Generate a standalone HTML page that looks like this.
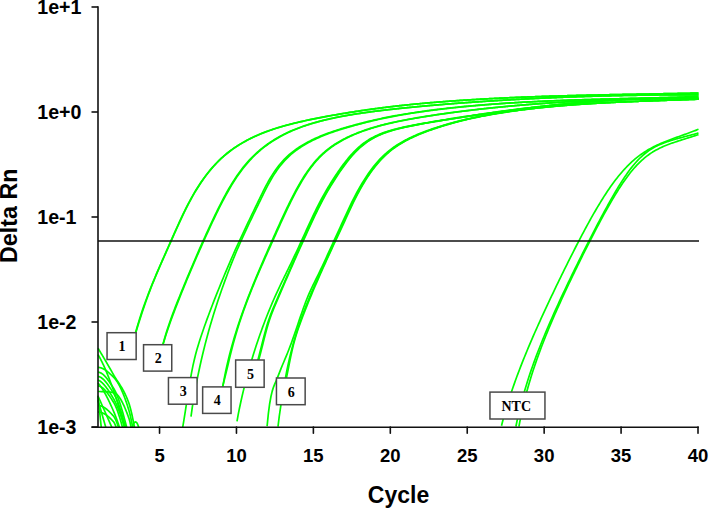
<!DOCTYPE html><html><head><meta charset="utf-8"><style>
*{margin:0;padding:0}
html,body{width:709px;height:508px;background:#fff;overflow:hidden}
svg{position:absolute;left:0;top:0}
text{font-family:"Liberation Sans",sans-serif;font-weight:bold;fill:#000}
.bx text{font-family:"Liberation Serif",serif;font-weight:bold;font-size:14px}
</style></head><body>
<svg width="709" height="508" viewBox="0 0 709 508">
<defs><clipPath id="pa"><rect x="97" y="0" width="602" height="427.6"/></clipPath></defs>
<g clip-path="url(#pa)" fill="none" stroke="#00ff00" stroke-width="1.70" stroke-linejoin="round" stroke-linecap="butt">
<g transform="translate(0.5,0)">
<path d="M128.80 358.74L130.08 352.70L131.36 347.05L132.65 341.75L133.93 336.75L135.21 332.00L136.49 327.47L137.77 323.13L139.06 318.97L140.34 314.97L141.62 311.10L142.90 307.36L144.18 303.73L145.47 300.19L146.75 296.75L148.03 293.39L149.31 290.09L150.59 286.86L151.88 283.69L153.16 280.57L154.44 277.49L155.72 274.45L157.01 271.45L158.29 268.47L159.57 265.51L160.85 262.58L162.13 259.65L163.42 256.74L164.70 253.84L165.98 250.93L167.26 248.03L168.54 245.12L169.83 242.21L171.11 239.31L172.39 236.41L173.67 233.52L174.95 230.65L176.24 227.80L177.52 224.98L178.80 222.18L180.08 219.41L181.36 216.68L182.65 213.99L183.93 211.34L185.21 208.74L186.49 206.20L187.77 203.71L189.06 201.28L190.34 198.92L191.62 196.61L192.90 194.37L194.18 192.18L195.47 190.05L196.75 187.97L198.03 185.96L199.31 183.99L200.59 182.08L201.88 180.23L203.16 178.42L204.44 176.67L205.72 174.96L207.01 173.31L208.29 171.70L209.57 170.13L210.85 168.62L212.13 167.14L213.42 165.71L214.70 164.32L215.98 162.97L217.26 161.66L218.54 160.39L219.83 159.16L221.11 157.97L222.39 156.81L223.67 155.68L224.95 154.59L226.24 153.53L227.52 152.50L228.80 151.51L230.08 150.54L231.36 149.59L232.65 148.68L233.93 147.79L235.21 146.93L236.49 146.09L237.77 145.27L239.06 144.47L240.34 143.69L241.62 142.93L242.90 142.19L244.18 141.47L245.47 140.77L246.75 140.08L248.03 139.41L249.31 138.76L250.59 138.12L251.88 137.50L253.16 136.89L254.44 136.30L255.72 135.72L257.01 135.16L258.29 134.61L259.57 134.07L260.85 133.54L262.13 133.03L263.42 132.53L264.70 132.03L265.98 131.55L267.26 131.08L268.54 130.63L269.83 130.18L271.11 129.74L272.39 129.30L273.67 128.88L274.95 128.47L276.24 128.06L277.52 127.67L278.80 127.28L280.08 126.89L281.36 126.52L282.65 126.15L283.93 125.79L285.21 125.43L286.49 125.08L287.77 124.74L289.06 124.40L290.34 124.07L291.62 123.74L292.90 123.42L294.18 123.10L295.47 122.79L296.75 122.48L298.03 122.18L299.31 121.88L300.59 121.59L301.88 121.30L303.16 121.01L304.44 120.73L305.72 120.45L307.01 120.17L308.29 119.90L309.57 119.63L310.85 119.36L312.13 119.10L313.42 118.84L314.70 118.58L315.98 118.32L317.26 118.07L318.54 117.82L319.83 117.57L321.11 117.33L322.39 117.08L323.67 116.84L324.95 116.60L326.24 116.37L327.52 116.13L328.80 115.90L330.08 115.67L331.36 115.44L332.65 115.21L333.93 114.99L335.21 114.76L336.49 114.54L337.77 114.32L339.06 114.10L340.34 113.89L341.62 113.67L342.90 113.46L344.18 113.25L345.47 113.04L346.75 112.83L348.03 112.62L349.31 112.42L350.59 112.21L351.88 112.01L353.16 111.81L354.44 111.61L355.72 111.41L357.01 111.22L358.29 111.02L359.57 110.83L360.85 110.64L362.13 110.45L363.42 110.26L364.70 110.07L365.98 109.89L367.26 109.71L368.54 109.53L369.83 109.35L371.11 109.17L372.39 108.99L373.67 108.82L374.95 108.64L376.24 108.47L377.52 108.30L378.80 108.13L380.08 107.97L381.36 107.80L382.65 107.64L383.93 107.48L385.21 107.32L386.49 107.16L387.77 107.01L389.06 106.85L390.34 106.70L391.62 106.55L392.90 106.40L394.18 106.25L395.47 106.11L396.75 105.96L398.03 105.82L399.31 105.68L400.59 105.54L401.88 105.40L403.16 105.27L404.44 105.13L405.72 105.00L407.01 104.86L408.29 104.73L409.57 104.60L410.85 104.47L412.13 104.35L413.42 104.22L414.70 104.10L415.98 103.97L417.26 103.85L418.54 103.73L419.83 103.61L421.11 103.49L422.39 103.37L423.67 103.26L424.95 103.14L426.24 103.03L427.52 102.92L428.80 102.81L430.08 102.70L431.36 102.59L432.65 102.48L433.93 102.37L435.21 102.27L436.49 102.16L437.77 102.06L439.06 101.95L440.34 101.85L441.62 101.75L442.90 101.65L444.18 101.55L445.47 101.46L446.75 101.36L448.03 101.27L449.31 101.17L450.59 101.08L451.88 100.99L453.16 100.89L454.44 100.80L455.72 100.71L457.01 100.62L458.29 100.54L459.57 100.45L460.85 100.36L462.13 100.28L463.42 100.20L464.70 100.11L465.98 100.03L467.26 99.95L468.54 99.87L469.83 99.79L471.11 99.71L472.39 99.63L473.67 99.55L474.95 99.48L476.24 99.40L477.52 99.33L478.80 99.25L480.08 99.18L481.36 99.11L482.65 99.03L483.93 98.96L485.21 98.89L486.49 98.82L487.77 98.76L489.06 98.69L490.34 98.62L491.62 98.55L492.90 98.49L494.18 98.42L495.47 98.36L496.75 98.29L498.03 98.23L499.31 98.17L500.59 98.11L501.88 98.05L503.16 97.99L504.44 97.93L505.72 97.87L507.01 97.81L508.29 97.75L509.57 97.70L510.85 97.64L512.13 97.58L513.42 97.53L514.70 97.47L515.98 97.42L517.26 97.37L518.54 97.31L519.83 97.26L521.11 97.21L522.39 97.16L523.67 97.11L524.95 97.06L526.24 97.01L527.52 96.96L528.80 96.91L530.08 96.87L531.36 96.82L532.65 96.77L533.93 96.73L535.21 96.68L536.49 96.64L537.77 96.59L539.06 96.55L540.34 96.50L541.62 96.46L542.90 96.42L544.18 96.38L545.47 96.33L546.75 96.29L548.03 96.25L549.31 96.21L550.59 96.17L551.88 96.13L553.16 96.09L554.44 96.06L555.72 96.02L557.01 95.98L558.29 95.94L559.57 95.91L560.85 95.87L562.13 95.83L563.42 95.80L564.70 95.76L565.98 95.73L567.26 95.69L568.54 95.66L569.83 95.62L571.11 95.59L572.39 95.56L573.67 95.52L574.95 95.49L576.24 95.46L577.52 95.43L578.80 95.40L580.08 95.36L581.36 95.33L582.65 95.30L583.93 95.27L585.21 95.24L586.49 95.21L587.77 95.18L589.06 95.15L590.34 95.12L591.62 95.10L592.90 95.07L594.18 95.04L595.47 95.01L596.75 94.98L598.03 94.96L599.31 94.93L600.59 94.90L601.88 94.87L603.16 94.85L604.44 94.82L605.72 94.79L607.01 94.77L608.29 94.74L609.57 94.72L610.85 94.69L612.13 94.67L613.42 94.64L614.70 94.62L615.98 94.59L617.26 94.57L618.54 94.54L619.83 94.52L621.11 94.49L622.39 94.47L623.67 94.44L624.95 94.42L626.24 94.39L627.52 94.37L628.80 94.35L630.08 94.32L631.36 94.30L632.65 94.28L633.93 94.25L635.21 94.23L636.49 94.21L637.77 94.18L639.06 94.16L640.34 94.14L641.62 94.11L642.90 94.09L644.18 94.07L645.47 94.04L646.75 94.02L648.03 94.00L649.31 93.97L650.59 93.95L651.88 93.93L653.16 93.90L654.44 93.88L655.72 93.86L657.01 93.83L658.29 93.81L659.57 93.79L660.85 93.76L662.13 93.74L663.42 93.72L664.70 93.69L665.98 93.67L667.26 93.65L668.54 93.62L669.83 93.60L671.11 93.57L672.39 93.55L673.67 93.53L674.95 93.50L676.24 93.48L677.52 93.45L678.80 93.43L680.08 93.40L681.36 93.38L682.65 93.35L683.93 93.33L685.21 93.30L686.49 93.28L687.77 93.25L689.06 93.23L690.34 93.20L691.62 93.17L692.90 93.15L694.18 93.12L695.47 93.09L696.75 93.07L698.00 93.04"/>
<path d="M128.80 356.62L130.08 351.53L131.36 346.64L132.65 341.94L133.93 337.39L135.21 332.97L136.49 328.67L137.77 324.49L139.06 320.40L140.34 316.41L141.62 312.51L142.90 308.70L144.18 304.96L145.47 301.32L146.75 297.75L148.03 294.26L149.31 290.86L150.59 287.54L151.88 284.29L153.16 281.11L154.44 277.98L155.72 274.91L157.01 271.89L158.29 268.90L159.57 265.95L160.85 263.02L162.13 260.12L163.42 257.23L164.70 254.36L165.98 251.48L167.26 248.61L168.54 245.73L169.83 242.85L171.11 239.97L172.39 237.09L173.67 234.22L174.95 231.36L176.24 228.52L177.52 225.69L178.80 222.88L180.08 220.11L181.36 217.36L182.65 214.66L183.93 211.99L185.21 209.38L186.49 206.82L187.77 204.31L189.06 201.87L190.34 199.48L191.62 197.16L192.90 194.89L194.18 192.69L195.47 190.54L196.75 188.46L198.03 186.43L199.31 184.45L200.59 182.53L201.88 180.66L203.16 178.84L204.44 177.07L205.72 175.36L207.01 173.69L208.29 172.07L209.57 170.49L210.85 168.97L212.13 167.48L213.42 166.04L214.70 164.64L215.98 163.28L217.26 161.97L218.54 160.69L219.83 159.45L221.11 158.24L222.39 157.08L223.67 155.94L224.95 154.84L226.24 153.78L227.52 152.74L228.80 151.74L230.08 150.76L231.36 149.81L232.65 148.89L233.93 148.00L235.21 147.13L236.49 146.28L237.77 145.46L239.06 144.65L240.34 143.87L241.62 143.11L242.90 142.36L244.18 141.64L245.47 140.93L246.75 140.24L248.03 139.57L249.31 138.91L250.59 138.27L251.88 137.64L253.16 137.03L254.44 136.44L255.72 135.86L257.01 135.29L258.29 134.73L259.57 134.19L260.85 133.66L262.13 133.15L263.42 132.64L264.70 132.15L265.98 131.67L267.26 131.19L268.54 130.73L269.83 130.28L271.11 129.84L272.39 129.40L273.67 128.98L274.95 128.56L276.24 128.16L277.52 127.76L278.80 127.37L280.08 126.98L281.36 126.60L282.65 126.23L283.93 125.87L285.21 125.51L286.49 125.16L287.77 124.82L289.06 124.48L290.34 124.15L291.62 123.82L292.90 123.50L294.18 123.18L295.47 122.86L296.75 122.56L298.03 122.25L299.31 121.95L300.59 121.66L301.88 121.37L303.16 121.08L304.44 120.79L305.72 120.51L307.01 120.24L308.29 119.96L309.57 119.69L310.85 119.42L312.13 119.16L313.42 118.90L314.70 118.64L315.98 118.38L317.26 118.13L318.54 117.88L319.83 117.63L321.11 117.38L322.39 117.14L323.67 116.90L324.95 116.66L326.24 116.42L327.52 116.19L328.80 115.95L330.08 115.72L331.36 115.49L332.65 115.26L333.93 115.04L335.21 114.82L336.49 114.59L337.77 114.37L339.06 114.15L340.34 113.94L341.62 113.72L342.90 113.51L344.18 113.30L345.47 113.09L346.75 112.88L348.03 112.67L349.31 112.46L350.59 112.26L351.88 112.06L353.16 111.86L354.44 111.66L355.72 111.46L357.01 111.26L358.29 111.07L359.57 110.88L360.85 110.68L362.13 110.49L363.42 110.31L364.70 110.12L365.98 109.93L367.26 109.75L368.54 109.57L369.83 109.39L371.11 109.21L372.39 109.03L373.67 108.86L374.95 108.68L376.24 108.51L377.52 108.34L378.80 108.17L380.08 108.01L381.36 107.84L382.65 107.68L383.93 107.52L385.21 107.36L386.49 107.20L387.77 107.04L389.06 106.89L390.34 106.74L391.62 106.59L392.90 106.44L394.18 106.29L395.47 106.14L396.75 106.00L398.03 105.86L399.31 105.71L400.59 105.57L401.88 105.43L403.16 105.30L404.44 105.16L405.72 105.03L407.01 104.89L408.29 104.76L409.57 104.63L410.85 104.50L412.13 104.38L413.42 104.25L414.70 104.12L415.98 104.00L417.26 103.88L418.54 103.76L419.83 103.64L421.11 103.52L422.39 103.40L423.67 103.28L424.95 103.17L426.24 103.06L427.52 102.94L428.80 102.83L430.08 102.72L431.36 102.61L432.65 102.50L433.93 102.40L435.21 102.29L436.49 102.19L437.77 102.08L439.06 101.98L440.34 101.88L441.62 101.78L442.90 101.68L444.18 101.58L445.47 101.48L446.75 101.38L448.03 101.29L449.31 101.19L450.59 101.10L451.88 101.01L453.16 100.92L454.44 100.82L455.72 100.73L457.01 100.65L458.29 100.56L459.57 100.47L460.85 100.38L462.13 100.30L463.42 100.21L464.70 100.13L465.98 100.05L467.26 99.97L468.54 99.89L469.83 99.81L471.11 99.73L472.39 99.65L473.67 99.57L474.95 99.49L476.24 99.42L477.52 99.34L478.80 99.27L480.08 99.20L481.36 99.12L482.65 99.05L483.93 98.98L485.21 98.91L486.49 98.84L487.77 98.77L489.06 98.70L490.34 98.64L491.62 98.57L492.90 98.50L494.18 98.44L495.47 98.37L496.75 98.31L498.03 98.25L499.31 98.18L500.59 98.12L501.88 98.06L503.16 98.00L504.44 97.94L505.72 97.88L507.01 97.82L508.29 97.77L509.57 97.71L510.85 97.65L512.13 97.60L513.42 97.54L514.70 97.49L515.98 97.43L517.26 97.38L518.54 97.33L519.83 97.27L521.11 97.22L522.39 97.17L523.67 97.12L524.95 97.07L526.24 97.02L527.52 96.97L528.80 96.92L530.08 96.88L531.36 96.83L532.65 96.78L533.93 96.74L535.21 96.69L536.49 96.65L537.77 96.60L539.06 96.56L540.34 96.51L541.62 96.47L542.90 96.43L544.18 96.39L545.47 96.34L546.75 96.30L548.03 96.26L549.31 96.22L550.59 96.18L551.88 96.14L553.16 96.10L554.44 96.06L555.72 96.03L557.01 95.99L558.29 95.95L559.57 95.91L560.85 95.88L562.13 95.84L563.42 95.81L564.70 95.77L565.98 95.73L567.26 95.70L568.54 95.67L569.83 95.63L571.11 95.60L572.39 95.56L573.67 95.53L574.95 95.50L576.24 95.47L577.52 95.43L578.80 95.40L580.08 95.37L581.36 95.34L582.65 95.31L583.93 95.28L585.21 95.25L586.49 95.22L587.77 95.19L589.06 95.16L590.34 95.13L591.62 95.10L592.90 95.07L594.18 95.05L595.47 95.02L596.75 94.99L598.03 94.96L599.31 94.93L600.59 94.91L601.88 94.88L603.16 94.85L604.44 94.83L605.72 94.80L607.01 94.77L608.29 94.75L609.57 94.72L610.85 94.70L612.13 94.67L613.42 94.65L614.70 94.62L615.98 94.60L617.26 94.57L618.54 94.55L619.83 94.52L621.11 94.50L622.39 94.47L623.67 94.45L624.95 94.42L626.24 94.40L627.52 94.38L628.80 94.35L630.08 94.33L631.36 94.31L632.65 94.28L633.93 94.26L635.21 94.23L636.49 94.21L637.77 94.19L639.06 94.16L640.34 94.14L641.62 94.12L642.90 94.09L644.18 94.07L645.47 94.05L646.75 94.03L648.03 94.00L649.31 93.98L650.59 93.96L651.88 93.93L653.16 93.91L654.44 93.89L655.72 93.86L657.01 93.84L658.29 93.82L659.57 93.79L660.85 93.77L662.13 93.75L663.42 93.72L664.70 93.70L665.98 93.68L667.26 93.65L668.54 93.63L669.83 93.60L671.11 93.58L672.39 93.56L673.67 93.53L674.95 93.51L676.24 93.48L677.52 93.46L678.80 93.43L680.08 93.41L681.36 93.38L682.65 93.36L683.93 93.33L685.21 93.31L686.49 93.28L687.77 93.26L689.06 93.23L690.34 93.21L691.62 93.18L692.90 93.15L694.18 93.13L695.47 93.10L696.75 93.07L698.00 93.05"/>
<path d="M159.50 356.22L160.78 350.85L162.06 345.81L163.35 341.08L164.63 336.60L165.91 332.35L167.19 328.30L168.47 324.42L169.76 320.70L171.04 317.10L172.32 313.61L173.60 310.22L174.88 306.89L176.17 303.62L177.45 300.40L178.73 297.20L180.01 294.02L181.29 290.86L182.58 287.72L183.86 284.60L185.14 281.49L186.42 278.40L187.71 275.33L188.99 272.27L190.27 269.23L191.55 266.21L192.83 263.21L194.12 260.22L195.40 257.25L196.68 254.30L197.96 251.36L199.24 248.45L200.53 245.55L201.81 242.68L203.09 239.82L204.37 236.98L205.65 234.15L206.94 231.34L208.22 228.55L209.50 225.77L210.78 223.02L212.06 220.29L213.35 217.59L214.63 214.92L215.91 212.27L217.19 209.67L218.47 207.09L219.76 204.56L221.04 202.07L222.32 199.61L223.60 197.21L224.88 194.84L226.17 192.53L227.45 190.26L228.73 188.04L230.01 185.87L231.29 183.76L232.58 181.69L233.86 179.68L235.14 177.73L236.42 175.83L237.71 173.99L238.99 172.20L240.27 170.46L241.55 168.77L242.83 167.14L244.12 165.56L245.40 164.02L246.68 162.53L247.96 161.09L249.24 159.69L250.53 158.33L251.81 157.02L253.09 155.75L254.37 154.51L255.65 153.32L256.94 152.16L258.22 151.04L259.50 149.95L260.78 148.89L262.06 147.87L263.35 146.87L264.63 145.90L265.91 144.96L267.19 144.04L268.47 143.14L269.76 142.27L271.04 141.42L272.32 140.60L273.60 139.79L274.88 139.01L276.17 138.25L277.45 137.50L278.73 136.78L280.01 136.07L281.29 135.39L282.58 134.72L283.86 134.07L285.14 133.44L286.42 132.82L287.71 132.22L288.99 131.63L290.27 131.06L291.55 130.51L292.83 129.96L294.12 129.43L295.40 128.92L296.68 128.42L297.96 127.93L299.24 127.45L300.53 126.98L301.81 126.52L303.09 126.08L304.37 125.64L305.65 125.21L306.94 124.80L308.22 124.39L309.50 123.99L310.78 123.60L312.06 123.22L313.35 122.85L314.63 122.48L315.91 122.12L317.19 121.77L318.47 121.43L319.76 121.09L321.04 120.76L322.32 120.44L323.60 120.12L324.88 119.81L326.17 119.51L327.45 119.21L328.73 118.91L330.01 118.63L331.29 118.34L332.58 118.07L333.86 117.80L335.14 117.53L336.42 117.27L337.71 117.01L338.99 116.76L340.27 116.51L341.55 116.27L342.83 116.03L344.12 115.80L345.40 115.57L346.68 115.34L347.96 115.12L349.24 114.91L350.53 114.69L351.81 114.48L353.09 114.28L354.37 114.07L355.65 113.87L356.94 113.68L358.22 113.48L359.50 113.29L360.78 113.10L362.06 112.92L363.35 112.73L364.63 112.55L365.91 112.37L367.19 112.20L368.47 112.02L369.76 111.85L371.04 111.68L372.32 111.52L373.60 111.35L374.88 111.19L376.17 111.03L377.45 110.87L378.73 110.71L380.01 110.55L381.29 110.40L382.58 110.25L383.86 110.10L385.14 109.95L386.42 109.80L387.71 109.65L388.99 109.51L390.27 109.36L391.55 109.22L392.83 109.08L394.12 108.94L395.40 108.80L396.68 108.66L397.96 108.53L399.24 108.39L400.53 108.26L401.81 108.13L403.09 108.00L404.37 107.86L405.65 107.74L406.94 107.61L408.22 107.48L409.50 107.35L410.78 107.23L412.06 107.10L413.35 106.98L414.63 106.86L415.91 106.74L417.19 106.61L418.47 106.49L419.76 106.38L421.04 106.26L422.32 106.14L423.60 106.02L424.88 105.91L426.17 105.79L427.45 105.68L428.73 105.57L430.01 105.45L431.29 105.34L432.58 105.23L433.86 105.12L435.14 105.01L436.42 104.90L437.71 104.79L438.99 104.69L440.27 104.58L441.55 104.48L442.83 104.37L444.12 104.27L445.40 104.16L446.68 104.06L447.96 103.96L449.24 103.86L450.53 103.75L451.81 103.65L453.09 103.56L454.37 103.46L455.65 103.36L456.94 103.26L458.22 103.16L459.50 103.07L460.78 102.97L462.06 102.88L463.35 102.78L464.63 102.69L465.91 102.60L467.19 102.50L468.47 102.41L469.76 102.32L471.04 102.23L472.32 102.14L473.60 102.05L474.88 101.96L476.17 101.87L477.45 101.79L478.73 101.70L480.01 101.61L481.29 101.53L482.58 101.44L483.86 101.36L485.14 101.27L486.42 101.19L487.71 101.11L488.99 101.02L490.27 100.94L491.55 100.86L492.83 100.78L494.12 100.70L495.40 100.62L496.68 100.54L497.96 100.47L499.24 100.39L500.53 100.31L501.81 100.23L503.09 100.16L504.37 100.08L505.65 100.01L506.94 99.94L508.22 99.86L509.50 99.79L510.78 99.72L512.06 99.64L513.35 99.57L514.63 99.50L515.91 99.43L517.19 99.36L518.47 99.29L519.76 99.23L521.04 99.16L522.32 99.09L523.60 99.02L524.88 98.96L526.17 98.89L527.45 98.83L528.73 98.76L530.01 98.70L531.29 98.64L532.58 98.57L533.86 98.51L535.14 98.45L536.42 98.39L537.71 98.33L538.99 98.27L540.27 98.21L541.55 98.15L542.83 98.09L544.12 98.03L545.40 97.97L546.68 97.92L547.96 97.86L549.24 97.81L550.53 97.75L551.81 97.70L553.09 97.64L554.37 97.59L555.65 97.54L556.94 97.48L558.22 97.43L559.50 97.38L560.78 97.33L562.06 97.28L563.35 97.23L564.63 97.18L565.91 97.13L567.19 97.08L568.47 97.04L569.76 96.99L571.04 96.94L572.32 96.90L573.60 96.85L574.88 96.81L576.17 96.76L577.45 96.72L578.73 96.67L580.01 96.63L581.29 96.59L582.58 96.55L583.86 96.51L585.14 96.47L586.42 96.43L587.71 96.39L588.99 96.35L590.27 96.31L591.55 96.27L592.83 96.23L594.12 96.20L595.40 96.16L596.68 96.12L597.96 96.09L599.24 96.05L600.53 96.02L601.81 95.99L603.09 95.95L604.37 95.92L605.65 95.89L606.94 95.86L608.22 95.82L609.50 95.79L610.78 95.76L612.06 95.73L613.35 95.71L614.63 95.68L615.91 95.65L617.19 95.62L618.47 95.59L619.76 95.57L621.04 95.54L622.32 95.52L623.60 95.49L624.88 95.47L626.17 95.44L627.45 95.42L628.73 95.40L630.01 95.38L631.29 95.35L632.58 95.33L633.86 95.31L635.14 95.29L636.42 95.27L637.71 95.25L638.99 95.23L640.27 95.22L641.55 95.20L642.83 95.18L644.12 95.16L645.40 95.15L646.68 95.13L647.96 95.12L649.24 95.10L650.53 95.09L651.81 95.08L653.09 95.06L654.37 95.05L655.65 95.04L656.94 95.03L658.22 95.02L659.50 95.00L660.78 94.99L662.06 94.99L663.35 94.98L664.63 94.97L665.91 94.96L667.19 94.95L668.47 94.95L669.76 94.94L671.04 94.93L672.32 94.93L673.60 94.92L674.88 94.92L676.17 94.91L677.45 94.91L678.73 94.91L680.01 94.91L681.29 94.90L682.58 94.90L683.86 94.90L685.14 94.90L686.42 94.90L687.71 94.90L688.99 94.90L690.27 94.90L691.55 94.91L692.83 94.91L694.12 94.91L695.40 94.92L696.68 94.92L697.96 94.92L698.00 94.92"/>
<path d="M159.50 355.12L160.78 350.45L162.06 345.99L163.35 341.70L164.63 337.57L165.91 333.58L167.19 329.71L168.47 325.96L169.76 322.31L171.04 318.74L172.32 315.25L173.60 311.83L174.88 308.46L176.17 305.15L177.45 301.87L178.73 298.63L180.01 295.42L181.29 292.24L182.58 289.09L183.86 285.96L185.14 282.85L186.42 279.76L187.71 276.70L188.99 273.65L190.27 270.63L191.55 267.62L192.83 264.63L194.12 261.66L195.40 258.71L196.68 255.77L197.96 252.85L199.24 249.94L200.53 247.06L201.81 244.18L203.09 241.32L204.37 238.48L205.65 235.65L206.94 232.83L208.22 230.03L209.50 227.25L210.78 224.49L212.06 221.75L213.35 219.04L214.63 216.35L215.91 213.69L217.19 211.07L218.47 208.48L219.76 205.93L221.04 203.41L222.32 200.94L223.60 198.51L224.88 196.12L226.17 193.78L227.45 191.49L228.73 189.25L230.01 187.05L231.29 184.91L232.58 182.81L233.86 180.78L235.14 178.79L236.42 176.86L237.71 174.99L238.99 173.17L240.27 171.40L241.55 169.69L242.83 168.03L244.12 166.41L245.40 164.85L246.68 163.34L247.96 161.87L249.24 160.45L250.53 159.07L251.81 157.73L253.09 156.44L254.37 155.18L255.65 153.97L256.94 152.79L258.22 151.65L259.50 150.54L260.78 149.47L262.06 148.42L263.35 147.41L264.63 146.43L265.91 145.47L267.19 144.54L268.47 143.63L269.76 142.75L271.04 141.88L272.32 141.05L273.60 140.23L274.88 139.43L276.17 138.66L277.45 137.91L278.73 137.17L280.01 136.46L281.29 135.76L282.58 135.08L283.86 134.42L285.14 133.78L286.42 133.16L287.71 132.55L288.99 131.95L290.27 131.37L291.55 130.81L292.83 130.26L294.12 129.72L295.40 129.20L296.68 128.69L297.96 128.19L299.24 127.71L300.53 127.23L301.81 126.77L303.09 126.32L304.37 125.88L305.65 125.44L306.94 125.02L308.22 124.61L309.50 124.21L310.78 123.81L312.06 123.43L313.35 123.05L314.63 122.68L315.91 122.32L317.19 121.96L318.47 121.62L319.76 121.28L321.04 120.94L322.32 120.62L323.60 120.30L324.88 119.98L326.17 119.67L327.45 119.37L328.73 119.07L330.01 118.78L331.29 118.50L332.58 118.22L333.86 117.94L335.14 117.67L336.42 117.41L337.71 117.15L338.99 116.89L340.27 116.65L341.55 116.40L342.83 116.16L344.12 115.92L345.40 115.69L346.68 115.47L347.96 115.24L349.24 115.02L350.53 114.81L351.81 114.60L353.09 114.39L354.37 114.18L355.65 113.98L356.94 113.78L358.22 113.59L359.50 113.39L360.78 113.20L362.06 113.02L363.35 112.83L364.63 112.65L365.91 112.47L367.19 112.29L368.47 112.12L369.76 111.95L371.04 111.78L372.32 111.61L373.60 111.44L374.88 111.28L376.17 111.12L377.45 110.96L378.73 110.80L380.01 110.64L381.29 110.48L382.58 110.33L383.86 110.18L385.14 110.03L386.42 109.88L387.71 109.73L388.99 109.59L390.27 109.44L391.55 109.30L392.83 109.16L394.12 109.02L395.40 108.88L396.68 108.74L397.96 108.60L399.24 108.47L400.53 108.33L401.81 108.20L403.09 108.07L404.37 107.94L405.65 107.81L406.94 107.68L408.22 107.55L409.50 107.42L410.78 107.30L412.06 107.17L413.35 107.05L414.63 106.92L415.91 106.80L417.19 106.68L418.47 106.56L419.76 106.44L421.04 106.32L422.32 106.20L423.60 106.09L424.88 105.97L426.17 105.86L427.45 105.74L428.73 105.63L430.01 105.51L431.29 105.40L432.58 105.29L433.86 105.18L435.14 105.07L436.42 104.96L437.71 104.85L438.99 104.75L440.27 104.64L441.55 104.53L442.83 104.43L444.12 104.32L445.40 104.22L446.68 104.12L447.96 104.01L449.24 103.91L450.53 103.81L451.81 103.71L453.09 103.61L454.37 103.51L455.65 103.41L456.94 103.31L458.22 103.22L459.50 103.12L460.78 103.02L462.06 102.93L463.35 102.83L464.63 102.74L465.91 102.65L467.19 102.55L468.47 102.46L469.76 102.37L471.04 102.28L472.32 102.19L473.60 102.10L474.88 102.01L476.17 101.92L477.45 101.83L478.73 101.75L480.01 101.66L481.29 101.57L482.58 101.49L483.86 101.40L485.14 101.32L486.42 101.23L487.71 101.15L488.99 101.07L490.27 100.99L491.55 100.91L492.83 100.83L494.12 100.75L495.40 100.67L496.68 100.59L497.96 100.51L499.24 100.43L500.53 100.35L501.81 100.28L503.09 100.20L504.37 100.12L505.65 100.05L506.94 99.98L508.22 99.90L509.50 99.83L510.78 99.76L512.06 99.68L513.35 99.61L514.63 99.54L515.91 99.47L517.19 99.40L518.47 99.33L519.76 99.26L521.04 99.19L522.32 99.13L523.60 99.06L524.88 98.99L526.17 98.93L527.45 98.86L528.73 98.80L530.01 98.73L531.29 98.67L532.58 98.61L533.86 98.54L535.14 98.48L536.42 98.42L537.71 98.36L538.99 98.30L540.27 98.24L541.55 98.18L542.83 98.12L544.12 98.06L545.40 98.01L546.68 97.95L547.96 97.89L549.24 97.84L550.53 97.78L551.81 97.73L553.09 97.67L554.37 97.62L555.65 97.56L556.94 97.51L558.22 97.46L559.50 97.41L560.78 97.36L562.06 97.31L563.35 97.26L564.63 97.21L565.91 97.16L567.19 97.11L568.47 97.06L569.76 97.01L571.04 96.97L572.32 96.92L573.60 96.88L574.88 96.83L576.17 96.79L577.45 96.74L578.73 96.70L580.01 96.65L581.29 96.61L582.58 96.57L583.86 96.53L585.14 96.49L586.42 96.45L587.71 96.41L588.99 96.37L590.27 96.33L591.55 96.29L592.83 96.25L594.12 96.22L595.40 96.18L596.68 96.14L597.96 96.11L599.24 96.07L600.53 96.04L601.81 96.00L603.09 95.97L604.37 95.94L605.65 95.91L606.94 95.87L608.22 95.84L609.50 95.81L610.78 95.78L612.06 95.75L613.35 95.72L614.63 95.69L615.91 95.66L617.19 95.64L618.47 95.61L619.76 95.58L621.04 95.56L622.32 95.53L623.60 95.51L624.88 95.48L626.17 95.46L627.45 95.43L628.73 95.41L630.01 95.39L631.29 95.37L632.58 95.34L633.86 95.32L635.14 95.30L636.42 95.28L637.71 95.26L638.99 95.24L640.27 95.23L641.55 95.21L642.83 95.19L644.12 95.17L645.40 95.16L646.68 95.14L647.96 95.13L649.24 95.11L650.53 95.10L651.81 95.08L653.09 95.07L654.37 95.06L655.65 95.04L656.94 95.03L658.22 95.02L659.50 95.01L660.78 95.00L662.06 94.99L663.35 94.98L664.63 94.97L665.91 94.96L667.19 94.96L668.47 94.95L669.76 94.94L671.04 94.94L672.32 94.93L673.60 94.93L674.88 94.92L676.17 94.92L677.45 94.91L678.73 94.91L680.01 94.91L681.29 94.90L682.58 94.90L683.86 94.90L685.14 94.90L686.42 94.90L687.71 94.90L688.99 94.90L690.27 94.90L691.55 94.91L692.83 94.91L694.12 94.91L695.40 94.91L696.68 94.92L697.96 94.92L698.00 94.92"/>
<path d="M182.20 427.47L183.48 419.53L184.76 411.52L186.05 403.32L187.33 395.04L188.61 386.88L189.89 379.11L191.17 372.03L192.46 365.69L193.74 359.99L195.02 354.82L196.30 350.08L197.58 345.69L198.87 341.55L200.15 337.59L201.43 333.74L202.71 329.98L203.99 326.31L205.28 322.70L206.56 319.16L207.84 315.67L209.12 312.23L210.41 308.84L211.69 305.49L212.97 302.18L214.25 298.90L215.53 295.65L216.82 292.44L218.10 289.25L219.38 286.08L220.66 282.94L221.94 279.83L223.23 276.73L224.51 273.66L225.79 270.61L227.07 267.58L228.35 264.58L229.64 261.60L230.92 258.64L232.20 255.72L233.48 252.82L234.76 249.95L236.05 247.12L237.33 244.31L238.61 241.53L239.89 238.77L241.17 236.02L242.46 233.29L243.74 230.58L245.02 227.87L246.30 225.17L247.58 222.48L248.87 219.80L250.15 217.13L251.43 214.46L252.71 211.79L253.99 209.13L255.28 206.47L256.56 203.81L257.84 201.15L259.12 198.51L260.41 195.88L261.69 193.28L262.97 190.71L264.25 188.19L265.53 185.73L266.82 183.33L268.10 181.01L269.38 178.78L270.66 176.63L271.94 174.58L273.23 172.60L274.51 170.72L275.79 168.91L277.07 167.18L278.35 165.53L279.64 163.95L280.92 162.44L282.20 161.00L283.48 159.63L284.76 158.31L286.05 157.06L287.33 155.86L288.61 154.72L289.89 153.62L291.17 152.57L292.46 151.56L293.74 150.60L295.02 149.67L296.30 148.78L297.58 147.91L298.87 147.07L300.15 146.26L301.43 145.47L302.71 144.70L303.99 143.95L305.28 143.22L306.56 142.51L307.84 141.82L309.12 141.15L310.41 140.50L311.69 139.86L312.97 139.24L314.25 138.64L315.53 138.06L316.82 137.48L318.10 136.93L319.38 136.38L320.66 135.85L321.94 135.33L323.23 134.83L324.51 134.33L325.79 133.85L327.07 133.37L328.35 132.91L329.64 132.45L330.92 132.00L332.20 131.56L333.48 131.13L334.76 130.71L336.05 130.29L337.33 129.88L338.61 129.48L339.89 129.08L341.17 128.68L342.46 128.30L343.74 127.91L345.02 127.53L346.30 127.16L347.58 126.79L348.87 126.43L350.15 126.07L351.43 125.71L352.71 125.35L353.99 125.00L355.28 124.66L356.56 124.32L357.84 123.98L359.12 123.64L360.41 123.31L361.69 122.98L362.97 122.65L364.25 122.33L365.53 122.01L366.82 121.69L368.10 121.38L369.38 121.07L370.66 120.77L371.94 120.46L373.23 120.17L374.51 119.87L375.79 119.58L377.07 119.29L378.35 119.01L379.64 118.73L380.92 118.46L382.20 118.19L383.48 117.92L384.76 117.66L386.05 117.40L387.33 117.15L388.61 116.90L389.89 116.65L391.17 116.41L392.46 116.17L393.74 115.93L395.02 115.70L396.30 115.47L397.58 115.24L398.87 115.01L400.15 114.79L401.43 114.57L402.71 114.36L403.99 114.14L405.28 113.93L406.56 113.72L407.84 113.52L409.12 113.31L410.41 113.11L411.69 112.91L412.97 112.72L414.25 112.52L415.53 112.33L416.82 112.14L418.10 111.96L419.38 111.77L420.66 111.59L421.94 111.41L423.23 111.23L424.51 111.05L425.79 110.88L427.07 110.71L428.35 110.53L429.64 110.37L430.92 110.20L432.20 110.04L433.48 109.87L434.76 109.71L436.05 109.55L437.33 109.39L438.61 109.24L439.89 109.09L441.17 108.93L442.46 108.78L443.74 108.63L445.02 108.49L446.30 108.34L447.58 108.20L448.87 108.06L450.15 107.92L451.43 107.78L452.71 107.64L453.99 107.50L455.28 107.37L456.56 107.24L457.84 107.11L459.12 106.98L460.41 106.85L461.69 106.72L462.97 106.60L464.25 106.47L465.53 106.35L466.82 106.23L468.10 106.11L469.38 105.99L470.66 105.88L471.94 105.76L473.23 105.65L474.51 105.54L475.79 105.43L477.07 105.32L478.35 105.21L479.64 105.10L480.92 104.99L482.20 104.89L483.48 104.79L484.76 104.68L486.05 104.58L487.33 104.48L488.61 104.38L489.89 104.29L491.17 104.19L492.46 104.10L493.74 104.00L495.02 103.91L496.30 103.82L497.58 103.73L498.87 103.64L500.15 103.55L501.43 103.46L502.71 103.38L503.99 103.29L505.28 103.21L506.56 103.13L507.84 103.05L509.12 102.96L510.41 102.88L511.69 102.81L512.97 102.73L514.25 102.65L515.53 102.58L516.82 102.50L518.10 102.43L519.38 102.35L520.66 102.28L521.94 102.21L523.23 102.14L524.51 102.07L525.79 102.00L527.07 101.94L528.35 101.87L529.64 101.80L530.92 101.74L532.20 101.68L533.48 101.61L534.76 101.55L536.05 101.49L537.33 101.43L538.61 101.37L539.89 101.31L541.17 101.25L542.46 101.19L543.74 101.14L545.02 101.08L546.30 101.02L547.58 100.97L548.87 100.91L550.15 100.86L551.43 100.81L552.71 100.76L553.99 100.70L555.28 100.65L556.56 100.60L557.84 100.55L559.12 100.50L560.41 100.46L561.69 100.41L562.97 100.36L564.25 100.31L565.53 100.27L566.82 100.22L568.10 100.18L569.38 100.13L570.66 100.09L571.94 100.05L573.23 100.00L574.51 99.96L575.79 99.92L577.07 99.88L578.35 99.83L579.64 99.79L580.92 99.75L582.20 99.71L583.48 99.67L584.76 99.64L586.05 99.60L587.33 99.56L588.61 99.52L589.89 99.48L591.17 99.45L592.46 99.41L593.74 99.37L595.02 99.34L596.30 99.30L597.58 99.26L598.87 99.23L600.15 99.19L601.43 99.16L602.71 99.13L603.99 99.09L605.28 99.06L606.56 99.02L607.84 98.99L609.12 98.96L610.41 98.92L611.69 98.89L612.97 98.86L614.25 98.82L615.53 98.79L616.82 98.76L618.10 98.73L619.38 98.69L620.66 98.66L621.94 98.63L623.23 98.60L624.51 98.57L625.79 98.53L627.07 98.50L628.35 98.47L629.64 98.44L630.92 98.41L632.20 98.38L633.48 98.34L634.76 98.31L636.05 98.28L637.33 98.25L638.61 98.22L639.89 98.19L641.17 98.16L642.46 98.12L643.74 98.09L645.02 98.06L646.30 98.03L647.58 98.00L648.87 97.96L650.15 97.93L651.43 97.90L652.71 97.86L653.99 97.83L655.28 97.80L656.56 97.77L657.84 97.73L659.12 97.70L660.41 97.66L661.69 97.63L662.97 97.60L664.25 97.56L665.53 97.53L666.82 97.49L668.10 97.46L669.38 97.42L670.66 97.39L671.94 97.35L673.23 97.31L674.51 97.28L675.79 97.24L677.07 97.20L678.35 97.16L679.64 97.13L680.92 97.09L682.20 97.05L683.48 97.01L684.76 96.97L686.05 96.93L687.33 96.89L688.61 96.85L689.89 96.80L691.17 96.76L692.46 96.72L693.74 96.68L695.02 96.63L696.30 96.59L697.58 96.55L698.00 96.53"/>
<path d="M190.50 416.54L191.78 407.44L193.06 399.26L194.35 391.75L195.63 384.76L196.91 378.19L198.19 371.96L199.47 366.00L200.76 360.30L202.04 354.81L203.32 349.51L204.60 344.40L205.88 339.45L207.17 334.67L208.45 330.03L209.73 325.53L211.01 321.15L212.29 316.89L213.58 312.72L214.86 308.66L216.14 304.68L217.42 300.79L218.71 296.97L219.99 293.22L221.27 289.54L222.55 285.93L223.83 282.37L225.12 278.87L226.40 275.43L227.68 272.04L228.96 268.70L230.24 265.42L231.53 262.18L232.81 259.00L234.09 255.87L235.37 252.79L236.65 249.76L237.94 246.79L239.22 243.87L240.50 240.99L241.78 238.15L243.06 235.35L244.35 232.57L245.63 229.83L246.91 227.10L248.19 224.40L249.47 221.72L250.76 219.05L252.04 216.39L253.32 213.74L254.60 211.09L255.88 208.44L257.17 205.80L258.45 203.16L259.73 200.52L261.01 197.88L262.29 195.27L263.58 192.68L264.86 190.13L266.14 187.63L267.42 185.18L268.71 182.81L269.99 180.51L271.27 178.29L272.55 176.17L273.83 174.13L275.12 172.18L276.40 170.31L277.68 168.52L278.96 166.81L280.24 165.17L281.53 163.61L282.81 162.11L284.09 160.69L285.37 159.33L286.65 158.03L287.94 156.78L289.22 155.60L290.50 154.46L291.78 153.38L293.06 152.34L294.35 151.34L295.63 150.39L296.91 149.47L298.19 148.58L299.47 147.72L300.76 146.89L302.04 146.08L303.32 145.29L304.60 144.53L305.88 143.78L307.17 143.06L308.45 142.36L309.73 141.67L311.01 141.00L312.29 140.35L313.58 139.72L314.86 139.11L316.14 138.51L317.42 137.93L318.71 137.36L319.99 136.80L321.27 136.26L322.55 135.73L323.83 135.22L325.12 134.71L326.40 134.22L327.68 133.74L328.96 133.27L330.24 132.80L331.53 132.35L332.81 131.90L334.09 131.47L335.37 131.04L336.65 130.61L337.94 130.20L339.22 129.79L340.50 129.38L341.78 128.99L343.06 128.60L344.35 128.21L345.63 127.83L346.91 127.45L348.19 127.08L349.47 126.71L350.76 126.34L352.04 125.98L353.32 125.63L354.60 125.28L355.88 124.93L357.17 124.58L358.45 124.24L359.73 123.90L361.01 123.56L362.29 123.23L363.58 122.90L364.86 122.58L366.14 122.26L367.42 121.94L368.71 121.62L369.99 121.31L371.27 121.00L372.55 120.70L373.83 120.40L375.12 120.10L376.40 119.81L377.68 119.52L378.96 119.23L380.24 118.95L381.53 118.67L382.81 118.40L384.09 118.13L385.37 117.86L386.65 117.60L387.94 117.35L389.22 117.09L390.50 116.84L391.78 116.60L393.06 116.35L394.35 116.11L395.63 115.88L396.91 115.64L398.19 115.41L399.47 115.19L400.76 114.96L402.04 114.74L403.32 114.52L404.60 114.31L405.88 114.09L407.17 113.88L408.45 113.68L409.73 113.47L411.01 113.27L412.29 113.07L413.58 112.87L414.86 112.67L416.14 112.48L417.42 112.29L418.71 112.10L419.99 111.91L421.27 111.73L422.55 111.55L423.83 111.37L425.12 111.19L426.40 111.01L427.68 110.84L428.96 110.67L430.24 110.50L431.53 110.33L432.81 110.16L434.09 110.00L435.37 109.84L436.65 109.68L437.94 109.52L439.22 109.36L440.50 109.20L441.78 109.05L443.06 108.90L444.35 108.75L445.63 108.60L446.91 108.45L448.19 108.31L449.47 108.17L450.76 108.02L452.04 107.88L453.32 107.75L454.60 107.61L455.88 107.47L457.17 107.34L458.45 107.21L459.73 107.08L461.01 106.95L462.29 106.82L463.58 106.69L464.86 106.57L466.14 106.45L467.42 106.32L468.71 106.20L469.99 106.09L471.27 105.97L472.55 105.85L473.83 105.74L475.12 105.62L476.40 105.51L477.68 105.40L478.96 105.29L480.24 105.18L481.53 105.08L482.81 104.97L484.09 104.87L485.37 104.76L486.65 104.66L487.94 104.56L489.22 104.46L490.50 104.36L491.78 104.27L493.06 104.17L494.35 104.08L495.63 103.98L496.91 103.89L498.19 103.80L499.47 103.71L500.76 103.62L502.04 103.53L503.32 103.44L504.60 103.36L505.88 103.27L507.17 103.19L508.45 103.11L509.73 103.03L511.01 102.95L512.29 102.87L513.58 102.79L514.86 102.71L516.14 102.63L517.42 102.56L518.71 102.48L519.99 102.41L521.27 102.34L522.55 102.27L523.83 102.20L525.12 102.13L526.40 102.06L527.68 101.99L528.96 101.92L530.24 101.86L531.53 101.79L532.81 101.73L534.09 101.66L535.37 101.60L536.65 101.54L537.94 101.47L539.22 101.41L540.50 101.35L541.78 101.30L543.06 101.24L544.35 101.18L545.63 101.12L546.91 101.07L548.19 101.01L549.47 100.96L550.76 100.90L552.04 100.85L553.32 100.80L554.60 100.74L555.88 100.69L557.17 100.64L558.45 100.59L559.73 100.54L561.01 100.49L562.29 100.45L563.58 100.40L564.86 100.35L566.14 100.30L567.42 100.26L568.71 100.21L569.99 100.17L571.27 100.12L572.55 100.08L573.83 100.04L575.12 99.99L576.40 99.95L577.68 99.91L578.96 99.87L580.24 99.83L581.53 99.79L582.81 99.74L584.09 99.71L585.37 99.67L586.65 99.63L587.94 99.59L589.22 99.55L590.50 99.51L591.78 99.47L593.06 99.44L594.35 99.40L595.63 99.36L596.91 99.33L598.19 99.29L599.47 99.26L600.76 99.22L602.04 99.19L603.32 99.15L604.60 99.12L605.88 99.08L607.17 99.05L608.45 99.02L609.73 98.98L611.01 98.95L612.29 98.91L613.58 98.88L614.86 98.85L616.14 98.82L617.42 98.78L618.71 98.75L619.99 98.72L621.27 98.69L622.55 98.65L623.83 98.62L625.12 98.59L626.40 98.56L627.68 98.53L628.96 98.50L630.24 98.46L631.53 98.43L632.81 98.40L634.09 98.37L635.37 98.34L636.65 98.31L637.94 98.27L639.22 98.24L640.50 98.21L641.78 98.18L643.06 98.15L644.35 98.12L645.63 98.08L646.91 98.05L648.19 98.02L649.47 97.99L650.76 97.96L652.04 97.92L653.32 97.89L654.60 97.86L655.88 97.82L657.17 97.79L658.45 97.76L659.73 97.72L661.01 97.69L662.29 97.66L663.58 97.62L664.86 97.59L666.14 97.55L667.42 97.52L668.71 97.48L669.99 97.45L671.27 97.41L672.55 97.38L673.83 97.34L675.12 97.30L676.40 97.27L677.68 97.23L678.96 97.19L680.24 97.15L681.53 97.12L682.81 97.08L684.09 97.04L685.37 97.00L686.65 96.96L687.94 96.92L689.22 96.88L690.50 96.84L691.78 96.80L693.06 96.75L694.35 96.71L695.63 96.67L696.91 96.62L698.00 96.59"/>
<path d="M221.10 393.49L222.38 385.79L223.66 378.82L224.95 372.43L226.23 366.49L227.51 360.94L228.79 355.71L230.07 350.74L231.36 346.00L232.64 341.47L233.92 337.10L235.20 332.89L236.48 328.82L237.77 324.86L239.05 321.01L240.33 317.26L241.61 313.60L242.89 310.01L244.18 306.50L245.46 303.05L246.74 299.66L248.02 296.32L249.31 293.03L250.59 289.79L251.87 286.58L253.15 283.42L254.43 280.29L255.72 277.19L257.00 274.12L258.28 271.07L259.56 268.05L260.84 265.06L262.13 262.08L263.41 259.12L264.69 256.18L265.97 253.25L267.25 250.33L268.54 247.43L269.82 244.53L271.10 241.64L272.38 238.76L273.66 235.88L274.95 233.02L276.23 230.16L277.51 227.31L278.79 224.48L280.07 221.67L281.36 218.87L282.64 216.10L283.92 213.35L285.20 210.63L286.48 207.95L287.77 205.29L289.05 202.68L290.33 200.10L291.61 197.56L292.89 195.07L294.18 192.63L295.46 190.23L296.74 187.89L298.02 185.60L299.31 183.36L300.59 181.19L301.87 179.07L303.15 177.02L304.43 175.03L305.72 173.11L307.00 171.24L308.28 169.44L309.56 167.71L310.84 166.03L312.13 164.41L313.41 162.85L314.69 161.34L315.97 159.90L317.25 158.50L318.54 157.16L319.82 155.88L321.10 154.64L322.38 153.45L323.66 152.30L324.95 151.21L326.23 150.15L327.51 149.13L328.79 148.16L330.07 147.21L331.36 146.31L332.64 145.43L333.92 144.58L335.20 143.76L336.48 142.96L337.77 142.19L339.05 141.44L340.33 140.71L341.61 140.00L342.89 139.32L344.18 138.65L345.46 138.00L346.74 137.37L348.02 136.76L349.31 136.17L350.59 135.59L351.87 135.02L353.15 134.48L354.43 133.94L355.72 133.42L357.00 132.91L358.28 132.41L359.56 131.92L360.84 131.45L362.13 130.99L363.41 130.53L364.69 130.09L365.97 129.65L367.25 129.23L368.54 128.81L369.82 128.40L371.10 128.00L372.38 127.61L373.66 127.23L374.95 126.85L376.23 126.48L377.51 126.12L378.79 125.77L380.07 125.43L381.36 125.09L382.64 124.76L383.92 124.44L385.20 124.12L386.48 123.81L387.77 123.51L389.05 123.21L390.33 122.92L391.61 122.63L392.89 122.35L394.18 122.07L395.46 121.80L396.74 121.53L398.02 121.26L399.31 121.00L400.59 120.75L401.87 120.49L403.15 120.24L404.43 119.99L405.72 119.75L407.00 119.51L408.28 119.27L409.56 119.04L410.84 118.81L412.13 118.58L413.41 118.35L414.69 118.13L415.97 117.90L417.25 117.69L418.54 117.47L419.82 117.25L421.10 117.04L422.38 116.83L423.66 116.62L424.95 116.42L426.23 116.21L427.51 116.01L428.79 115.81L430.07 115.61L431.36 115.41L432.64 115.22L433.92 115.02L435.20 114.83L436.48 114.64L437.77 114.45L439.05 114.27L440.33 114.08L441.61 113.90L442.89 113.72L444.18 113.54L445.46 113.36L446.74 113.18L448.02 113.01L449.31 112.83L450.59 112.66L451.87 112.49L453.15 112.32L454.43 112.15L455.72 111.98L457.00 111.81L458.28 111.65L459.56 111.49L460.84 111.32L462.13 111.16L463.41 111.01L464.69 110.85L465.97 110.69L467.25 110.54L468.54 110.38L469.82 110.23L471.10 110.08L472.38 109.93L473.66 109.78L474.95 109.63L476.23 109.48L477.51 109.34L478.79 109.19L480.07 109.05L481.36 108.91L482.64 108.77L483.92 108.63L485.20 108.49L486.48 108.35L487.77 108.22L489.05 108.08L490.33 107.95L491.61 107.82L492.89 107.68L494.18 107.55L495.46 107.42L496.74 107.30L498.02 107.17L499.31 107.04L500.59 106.92L501.87 106.80L503.15 106.67L504.43 106.55L505.72 106.43L507.00 106.31L508.28 106.19L509.56 106.08L510.84 105.96L512.13 105.84L513.41 105.73L514.69 105.62L515.97 105.51L517.25 105.39L518.54 105.28L519.82 105.18L521.10 105.07L522.38 104.96L523.66 104.85L524.95 104.75L526.23 104.65L527.51 104.54L528.79 104.44L530.07 104.34L531.36 104.24L532.64 104.14L533.92 104.04L535.20 103.95L536.48 103.85L537.77 103.75L539.05 103.66L540.33 103.57L541.61 103.47L542.89 103.38L544.18 103.29L545.46 103.20L546.74 103.11L548.02 103.03L549.31 102.94L550.59 102.85L551.87 102.77L553.15 102.68L554.43 102.60L555.72 102.52L557.00 102.44L558.28 102.35L559.56 102.28L560.84 102.20L562.13 102.12L563.41 102.04L564.69 101.96L565.97 101.89L567.25 101.81L568.54 101.74L569.82 101.67L571.10 101.59L572.38 101.52L573.66 101.45L574.95 101.38L576.23 101.31L577.51 101.25L578.79 101.18L580.07 101.11L581.36 101.05L582.64 100.98L583.92 100.92L585.20 100.85L586.48 100.79L587.77 100.73L589.05 100.67L590.33 100.61L591.61 100.55L592.89 100.49L594.18 100.43L595.46 100.38L596.74 100.32L598.02 100.26L599.31 100.21L600.59 100.15L601.87 100.10L603.15 100.05L604.43 99.99L605.72 99.94L607.00 99.89L608.28 99.84L609.56 99.79L610.84 99.74L612.13 99.70L613.41 99.65L614.69 99.60L615.97 99.56L617.25 99.51L618.54 99.47L619.82 99.42L621.10 99.38L622.38 99.34L623.66 99.30L624.95 99.25L626.23 99.21L627.51 99.17L628.79 99.14L630.07 99.10L631.36 99.06L632.64 99.02L633.92 98.98L635.20 98.95L636.48 98.91L637.77 98.88L639.05 98.84L640.33 98.81L641.61 98.78L642.89 98.74L644.18 98.71L645.46 98.68L646.74 98.65L648.02 98.62L649.31 98.59L650.59 98.56L651.87 98.53L653.15 98.51L654.43 98.48L655.72 98.45L657.00 98.42L658.28 98.40L659.56 98.37L660.84 98.35L662.13 98.33L663.41 98.30L664.69 98.28L665.97 98.26L667.25 98.23L668.54 98.21L669.82 98.19L671.10 98.17L672.38 98.15L673.66 98.13L674.95 98.11L676.23 98.09L677.51 98.08L678.79 98.06L680.07 98.04L681.36 98.03L682.64 98.01L683.92 97.99L685.20 97.98L686.48 97.96L687.77 97.95L689.05 97.94L690.33 97.92L691.61 97.91L692.89 97.90L694.18 97.89L695.46 97.87L696.74 97.86L698.00 97.85"/>
<path d="M221.10 390.74L222.38 385.75L223.66 380.64L224.95 375.41L226.23 370.10L227.51 364.74L228.79 359.41L230.07 354.14L231.36 349.03L232.64 344.13L233.92 339.45L235.20 334.97L236.48 330.66L237.77 326.52L239.05 322.51L240.33 318.64L241.61 314.88L242.89 311.23L244.18 307.66L245.46 304.18L246.74 300.77L248.02 297.42L249.31 294.13L250.59 290.89L251.87 287.71L253.15 284.56L254.43 281.46L255.72 278.40L257.00 275.38L258.28 272.38L259.56 269.41L260.84 266.47L262.13 263.55L263.41 260.65L264.69 257.76L265.97 254.88L267.25 252.02L268.54 249.16L269.82 246.30L271.10 243.44L272.38 240.58L273.66 237.72L274.95 234.86L276.23 232.01L277.51 229.16L278.79 226.31L280.07 223.48L281.36 220.67L282.64 217.87L283.92 215.10L285.20 212.36L286.48 209.64L287.77 206.96L289.05 204.31L290.33 201.71L291.61 199.14L292.89 196.62L294.18 194.14L295.46 191.72L296.74 189.34L298.02 187.02L299.31 184.75L300.59 182.53L301.87 180.38L303.15 178.29L304.43 176.26L305.72 174.30L307.00 172.40L308.28 170.56L309.56 168.78L310.84 167.07L312.13 165.41L313.41 163.81L314.69 162.28L315.97 160.79L317.25 159.37L318.54 157.99L319.82 156.67L321.10 155.40L322.38 154.18L323.66 153.01L324.95 151.89L326.23 150.80L327.51 149.76L328.79 148.76L330.07 147.80L331.36 146.87L332.64 145.97L333.92 145.11L335.20 144.27L336.48 143.46L337.77 142.67L339.05 141.90L340.33 141.16L341.61 140.44L342.89 139.74L344.18 139.06L345.46 138.40L346.74 137.76L348.02 137.14L349.31 136.54L350.59 135.95L351.87 135.37L353.15 134.82L354.43 134.27L355.72 133.74L357.00 133.22L358.28 132.72L359.56 132.23L360.84 131.74L362.13 131.27L363.41 130.81L364.69 130.36L365.97 129.92L367.25 129.49L368.54 129.07L369.82 128.65L371.10 128.25L372.38 127.85L373.66 127.46L374.95 127.08L376.23 126.71L377.51 126.35L378.79 125.99L380.07 125.64L381.36 125.30L382.64 124.97L383.92 124.64L385.20 124.32L386.48 124.01L387.77 123.70L389.05 123.40L390.33 123.10L391.61 122.81L392.89 122.52L394.18 122.24L395.46 121.97L396.74 121.70L398.02 121.43L399.31 121.17L400.59 120.91L401.87 120.65L403.15 120.40L404.43 120.15L405.72 119.90L407.00 119.66L408.28 119.42L409.56 119.18L410.84 118.95L412.13 118.72L413.41 118.49L414.69 118.27L415.97 118.04L417.25 117.82L418.54 117.60L419.82 117.39L421.10 117.17L422.38 116.96L423.66 116.75L424.95 116.54L426.23 116.34L427.51 116.14L428.79 115.93L430.07 115.73L431.36 115.54L432.64 115.34L433.92 115.15L435.20 114.95L436.48 114.76L437.77 114.57L439.05 114.38L440.33 114.20L441.61 114.01L442.89 113.83L444.18 113.65L445.46 113.47L446.74 113.29L448.02 113.11L449.31 112.94L450.59 112.77L451.87 112.59L453.15 112.42L454.43 112.25L455.72 112.08L457.00 111.92L458.28 111.75L459.56 111.59L460.84 111.43L462.13 111.26L463.41 111.10L464.69 110.95L465.97 110.79L467.25 110.63L468.54 110.48L469.82 110.32L471.10 110.17L472.38 110.02L473.66 109.87L474.95 109.72L476.23 109.57L477.51 109.43L478.79 109.28L480.07 109.14L481.36 109.00L482.64 108.86L483.92 108.71L485.20 108.58L486.48 108.44L487.77 108.30L489.05 108.17L490.33 108.03L491.61 107.90L492.89 107.77L494.18 107.63L495.46 107.51L496.74 107.38L498.02 107.25L499.31 107.12L500.59 107.00L501.87 106.87L503.15 106.75L504.43 106.63L505.72 106.51L507.00 106.39L508.28 106.27L509.56 106.15L510.84 106.03L512.13 105.92L513.41 105.80L514.69 105.69L515.97 105.58L517.25 105.46L518.54 105.35L519.82 105.24L521.10 105.13L522.38 105.03L523.66 104.92L524.95 104.81L526.23 104.71L527.51 104.61L528.79 104.50L530.07 104.40L531.36 104.30L532.64 104.20L533.92 104.10L535.20 104.01L536.48 103.91L537.77 103.81L539.05 103.72L540.33 103.62L541.61 103.53L542.89 103.44L544.18 103.35L545.46 103.26L546.74 103.17L548.02 103.08L549.31 102.99L550.59 102.91L551.87 102.82L553.15 102.74L554.43 102.65L555.72 102.57L557.00 102.49L558.28 102.41L559.56 102.32L560.84 102.25L562.13 102.17L563.41 102.09L564.69 102.01L565.97 101.94L567.25 101.86L568.54 101.79L569.82 101.71L571.10 101.64L572.38 101.57L573.66 101.50L574.95 101.43L576.23 101.36L577.51 101.29L578.79 101.22L580.07 101.15L581.36 101.09L582.64 101.02L583.92 100.96L585.20 100.89L586.48 100.83L587.77 100.77L589.05 100.71L590.33 100.65L591.61 100.59L592.89 100.53L594.18 100.47L595.46 100.41L596.74 100.35L598.02 100.30L599.31 100.24L600.59 100.19L601.87 100.13L603.15 100.08L604.43 100.03L605.72 99.98L607.00 99.92L608.28 99.87L609.56 99.82L610.84 99.78L612.13 99.73L613.41 99.68L614.69 99.63L615.97 99.59L617.25 99.54L618.54 99.50L619.82 99.45L621.10 99.41L622.38 99.36L623.66 99.32L624.95 99.28L626.23 99.24L627.51 99.20L628.79 99.16L630.07 99.12L631.36 99.08L632.64 99.04L633.92 99.01L635.20 98.97L636.48 98.93L637.77 98.90L639.05 98.86L640.33 98.83L641.61 98.80L642.89 98.76L644.18 98.73L645.46 98.70L646.74 98.67L648.02 98.64L649.31 98.61L650.59 98.58L651.87 98.55L653.15 98.52L654.43 98.49L655.72 98.47L657.00 98.44L658.28 98.41L659.56 98.39L660.84 98.36L662.13 98.34L663.41 98.32L664.69 98.29L665.97 98.27L667.25 98.25L668.54 98.23L669.82 98.20L671.10 98.18L672.38 98.16L673.66 98.14L674.95 98.12L676.23 98.11L677.51 98.09L678.79 98.07L680.07 98.05L681.36 98.04L682.64 98.02L683.92 98.00L685.20 97.99L686.48 97.97L687.77 97.96L689.05 97.94L690.33 97.93L691.61 97.92L692.89 97.91L694.18 97.89L695.46 97.88L696.74 97.87L698.00 97.86"/>
<path d="M236.50 421.28L237.78 414.20L239.06 407.73L240.35 401.71L241.63 396.03L242.91 390.63L244.19 385.46L245.47 380.48L246.76 375.66L248.04 370.99L249.32 366.46L250.60 362.05L251.88 357.77L253.17 353.60L254.45 349.55L255.73 345.60L257.01 341.74L258.29 337.98L259.58 334.29L260.86 330.69L262.14 327.16L263.42 323.70L264.71 320.32L265.99 317.01L267.27 313.76L268.55 310.58L269.83 307.47L271.12 304.43L272.40 301.45L273.68 298.53L274.96 295.66L276.24 292.84L277.53 290.07L278.81 287.33L280.09 284.63L281.37 281.95L282.65 279.29L283.94 276.65L285.22 274.02L286.50 271.40L287.78 268.77L289.06 266.14L290.35 263.51L291.63 260.85L292.91 258.18L294.19 255.49L295.47 252.77L296.76 250.02L298.04 247.24L299.32 244.45L300.60 241.65L301.88 238.85L303.17 236.05L304.45 233.26L305.73 230.47L307.01 227.68L308.29 224.91L309.58 222.15L310.86 219.40L312.14 216.68L313.42 213.99L314.71 211.33L315.99 208.71L317.27 206.14L318.55 203.63L319.83 201.17L321.12 198.77L322.40 196.42L323.68 194.12L324.96 191.87L326.24 189.67L327.53 187.51L328.81 185.39L330.09 183.31L331.37 181.26L332.65 179.25L333.94 177.27L335.22 175.31L336.50 173.40L337.78 171.51L339.06 169.66L340.35 167.85L341.63 166.08L342.91 164.35L344.19 162.66L345.47 161.01L346.76 159.41L348.04 157.86L349.32 156.35L350.60 154.90L351.88 153.49L353.17 152.13L354.45 150.82L355.73 149.56L357.01 148.35L358.29 147.19L359.58 146.08L360.86 145.01L362.14 144.00L363.42 143.03L364.71 142.10L365.99 141.21L367.27 140.37L368.55 139.57L369.83 138.80L371.12 138.07L372.40 137.38L373.68 136.72L374.96 136.09L376.24 135.49L377.53 134.91L378.81 134.36L380.09 133.84L381.37 133.34L382.65 132.86L383.94 132.40L385.22 131.96L386.50 131.54L387.78 131.13L389.06 130.73L390.35 130.36L391.63 129.99L392.91 129.64L394.19 129.29L395.47 128.96L396.76 128.64L398.04 128.32L399.32 128.02L400.60 127.72L401.88 127.43L403.17 127.15L404.45 126.87L405.73 126.59L407.01 126.33L408.29 126.06L409.58 125.80L410.86 125.55L412.14 125.30L413.42 125.05L414.71 124.81L415.99 124.57L417.27 124.33L418.55 124.09L419.83 123.86L421.12 123.63L422.40 123.40L423.68 123.17L424.96 122.94L426.24 122.72L427.53 122.50L428.81 122.28L430.09 122.06L431.37 121.84L432.65 121.62L433.94 121.41L435.22 121.19L436.50 120.98L437.78 120.77L439.06 120.56L440.35 120.35L441.63 120.14L442.91 119.93L444.19 119.72L445.47 119.52L446.76 119.31L448.04 119.11L449.32 118.90L450.60 118.70L451.88 118.50L453.17 118.30L454.45 118.09L455.73 117.89L457.01 117.69L458.29 117.50L459.58 117.30L460.86 117.10L462.14 116.91L463.42 116.71L464.71 116.51L465.99 116.32L467.27 116.13L468.55 115.93L469.83 115.74L471.12 115.55L472.40 115.36L473.68 115.17L474.96 114.98L476.24 114.79L477.53 114.61L478.81 114.42L480.09 114.23L481.37 114.05L482.65 113.86L483.94 113.68L485.22 113.50L486.50 113.31L487.78 113.13L489.06 112.95L490.35 112.77L491.63 112.59L492.91 112.41L494.19 112.24L495.47 112.06L496.76 111.88L498.04 111.71L499.32 111.53L500.60 111.36L501.88 111.19L503.17 111.01L504.45 110.84L505.73 110.67L507.01 110.50L508.29 110.34L509.58 110.17L510.86 110.00L512.14 109.84L513.42 109.67L514.71 109.51L515.99 109.34L517.27 109.18L518.55 109.02L519.83 108.86L521.12 108.70L522.40 108.54L523.68 108.38L524.96 108.23L526.24 108.07L527.53 107.92L528.81 107.76L530.09 107.61L531.37 107.46L532.65 107.31L533.94 107.16L535.22 107.01L536.50 106.86L537.78 106.71L539.06 106.57L540.35 106.42L541.63 106.28L542.91 106.14L544.19 106.00L545.47 105.86L546.76 105.72L548.04 105.58L549.32 105.44L550.60 105.31L551.88 105.17L553.17 105.04L554.45 104.90L555.73 104.77L557.01 104.64L558.29 104.51L559.58 104.39L560.86 104.26L562.14 104.13L563.42 104.01L564.71 103.88L565.99 103.76L567.27 103.64L568.55 103.52L569.83 103.40L571.12 103.28L572.40 103.17L573.68 103.05L574.96 102.94L576.24 102.83L577.53 102.72L578.81 102.61L580.09 102.50L581.37 102.39L582.65 102.28L583.94 102.18L585.22 102.08L586.50 101.97L587.78 101.87L589.06 101.77L590.35 101.68L591.63 101.58L592.91 101.48L594.19 101.39L595.47 101.30L596.76 101.20L598.04 101.11L599.32 101.03L600.60 100.94L601.88 100.85L603.17 100.77L604.45 100.69L605.73 100.60L607.01 100.52L608.29 100.45L609.58 100.37L610.86 100.29L612.14 100.22L613.42 100.15L614.71 100.08L615.99 100.01L617.27 99.94L618.55 99.87L619.83 99.81L621.12 99.74L622.40 99.68L623.68 99.62L624.96 99.56L626.24 99.50L627.53 99.45L628.81 99.39L630.09 99.34L631.37 99.29L632.65 99.24L633.94 99.19L635.22 99.15L636.50 99.10L637.78 99.06L639.06 99.02L640.35 98.98L641.63 98.94L642.91 98.90L644.19 98.87L645.47 98.84L646.76 98.80L648.04 98.78L649.32 98.75L650.60 98.72L651.88 98.70L653.17 98.67L654.45 98.65L655.73 98.63L657.01 98.62L658.29 98.60L659.58 98.59L660.86 98.58L662.14 98.57L663.42 98.56L664.71 98.55L665.99 98.55L667.27 98.54L668.55 98.54L669.83 98.54L671.12 98.55L672.40 98.55L673.68 98.56L674.96 98.57L676.24 98.58L677.53 98.59L678.81 98.60L680.09 98.62L681.37 98.64L682.65 98.66L683.94 98.68L685.22 98.70L686.50 98.73L687.78 98.76L689.06 98.79L690.35 98.82L691.63 98.85L692.91 98.89L694.19 98.92L695.47 98.96L696.76 99.01L698.00 99.05"/>
<path d="M251.80 378.31L253.08 374.74L254.36 370.77L255.65 366.45L256.93 361.82L258.21 356.96L259.49 351.95L260.77 346.85L262.06 341.75L263.34 336.73L264.62 331.89L265.90 327.31L267.18 323.08L268.47 319.20L269.75 315.63L271.03 312.29L272.31 309.12L273.59 306.06L274.88 303.06L276.16 300.08L277.44 297.10L278.72 294.13L280.01 291.16L281.29 288.20L282.57 285.25L283.85 282.30L285.13 279.35L286.42 276.41L287.70 273.47L288.98 270.54L290.26 267.62L291.54 264.70L292.83 261.80L294.11 258.90L295.39 256.01L296.67 253.14L297.95 250.27L299.24 247.41L300.52 244.56L301.80 241.72L303.08 238.88L304.36 236.06L305.65 233.25L306.93 230.44L308.21 227.64L309.49 224.86L310.77 222.09L312.06 219.35L313.34 216.63L314.62 213.94L315.90 211.29L317.18 208.67L318.47 206.11L319.75 203.60L321.03 201.15L322.31 198.75L323.59 196.41L324.88 194.12L326.16 191.87L327.44 189.67L328.72 187.51L330.01 185.39L331.29 183.31L332.57 181.27L333.85 179.25L335.13 177.27L336.42 175.32L337.70 173.40L338.98 171.52L340.26 169.67L341.54 167.86L342.83 166.08L344.11 164.35L345.39 162.66L346.67 161.02L347.95 159.42L349.24 157.86L350.52 156.36L351.80 154.90L353.08 153.49L354.36 152.13L355.65 150.82L356.93 149.56L358.21 148.35L359.49 147.19L360.77 146.08L362.06 145.02L363.34 144.00L364.62 143.03L365.90 142.10L367.18 141.22L368.47 140.37L369.75 139.57L371.03 138.80L372.31 138.08L373.59 137.38L374.88 136.72L376.16 136.09L377.44 135.49L378.72 134.91L380.01 134.37L381.29 133.84L382.57 133.34L383.85 132.86L385.13 132.40L386.42 131.96L387.70 131.54L388.98 131.13L390.26 130.74L391.54 130.36L392.83 129.99L394.11 129.64L395.39 129.29L396.67 128.96L397.95 128.64L399.24 128.32L400.52 128.02L401.80 127.72L403.08 127.43L404.36 127.15L405.65 126.87L406.93 126.59L408.21 126.33L409.49 126.06L410.77 125.81L412.06 125.55L413.34 125.30L414.62 125.05L415.90 124.81L417.18 124.57L418.47 124.33L419.75 124.09L421.03 123.86L422.31 123.63L423.59 123.40L424.88 123.17L426.16 122.94L427.44 122.72L428.72 122.50L430.01 122.28L431.29 122.06L432.57 121.84L433.85 121.62L435.13 121.41L436.42 121.19L437.70 120.98L438.98 120.77L440.26 120.56L441.54 120.35L442.83 120.14L444.11 119.93L445.39 119.72L446.67 119.52L447.95 119.31L449.24 119.11L450.52 118.90L451.80 118.70L453.08 118.50L454.36 118.30L455.65 118.09L456.93 117.89L458.21 117.70L459.49 117.50L460.77 117.30L462.06 117.10L463.34 116.91L464.62 116.71L465.90 116.51L467.18 116.32L468.47 116.13L469.75 115.93L471.03 115.74L472.31 115.55L473.59 115.36L474.88 115.17L476.16 114.98L477.44 114.79L478.72 114.61L480.01 114.42L481.29 114.23L482.57 114.05L483.85 113.86L485.13 113.68L486.42 113.50L487.70 113.31L488.98 113.13L490.26 112.95L491.54 112.77L492.83 112.59L494.11 112.41L495.39 112.24L496.67 112.06L497.95 111.88L499.24 111.71L500.52 111.53L501.80 111.36L503.08 111.19L504.36 111.02L505.65 110.84L506.93 110.67L508.21 110.50L509.49 110.34L510.77 110.17L512.06 110.00L513.34 109.84L514.62 109.67L515.90 109.51L517.18 109.34L518.47 109.18L519.75 109.02L521.03 108.86L522.31 108.70L523.59 108.54L524.88 108.38L526.16 108.23L527.44 108.07L528.72 107.92L530.01 107.76L531.29 107.61L532.57 107.46L533.85 107.31L535.13 107.16L536.42 107.01L537.70 106.86L538.98 106.72L540.26 106.57L541.54 106.42L542.83 106.28L544.11 106.14L545.39 106.00L546.67 105.86L547.95 105.72L549.24 105.58L550.52 105.44L551.80 105.31L553.08 105.17L554.36 105.04L555.65 104.90L556.93 104.77L558.21 104.64L559.49 104.51L560.77 104.39L562.06 104.26L563.34 104.13L564.62 104.01L565.90 103.88L567.18 103.76L568.47 103.64L569.75 103.52L571.03 103.40L572.31 103.29L573.59 103.17L574.88 103.05L576.16 102.94L577.44 102.83L578.72 102.72L580.01 102.61L581.29 102.50L582.57 102.39L583.85 102.28L585.13 102.18L586.42 102.08L587.70 101.97L588.98 101.87L590.26 101.77L591.54 101.68L592.83 101.58L594.11 101.48L595.39 101.39L596.67 101.30L597.95 101.20L599.24 101.11L600.52 101.03L601.80 100.94L603.08 100.85L604.36 100.77L605.65 100.69L606.93 100.60L608.21 100.52L609.49 100.45L610.77 100.37L612.06 100.29L613.34 100.22L614.62 100.15L615.90 100.08L617.18 100.01L618.47 99.94L619.75 99.87L621.03 99.81L622.31 99.74L623.59 99.68L624.88 99.62L626.16 99.56L627.44 99.50L628.72 99.45L630.01 99.39L631.29 99.34L632.57 99.29L633.85 99.24L635.13 99.19L636.42 99.15L637.70 99.10L638.98 99.06L640.26 99.02L641.54 98.98L642.83 98.94L644.11 98.90L645.39 98.87L646.67 98.84L647.95 98.80L649.24 98.78L650.52 98.75L651.80 98.72L653.08 98.70L654.36 98.67L655.65 98.65L656.93 98.63L658.21 98.62L659.49 98.60L660.77 98.59L662.06 98.58L663.34 98.57L664.62 98.56L665.90 98.55L667.18 98.55L668.47 98.54L669.75 98.54L671.03 98.54L672.31 98.55L673.59 98.55L674.88 98.56L676.16 98.57L677.44 98.58L678.72 98.59L680.01 98.60L681.29 98.62L682.57 98.64L683.85 98.66L685.13 98.68L686.42 98.70L687.70 98.73L688.98 98.76L690.26 98.79L691.54 98.82L692.83 98.85L694.11 98.89L695.39 98.92L696.67 98.96L697.95 99.01L698.00 99.01"/>
<path d="M251.80 376.26L253.08 374.30L254.36 371.59L255.65 368.23L256.93 364.32L258.21 359.96L259.49 355.25L260.77 350.30L262.06 345.22L263.34 340.11L264.62 335.07L265.90 330.23L267.18 325.68L268.47 321.52L269.75 317.71L271.03 314.19L272.31 310.89L273.59 307.75L274.88 304.70L276.16 301.68L277.44 298.67L278.72 295.67L280.01 292.67L281.29 289.69L282.57 286.71L283.85 283.73L285.13 280.76L286.42 277.80L287.70 274.85L288.98 271.91L290.26 268.98L291.54 266.05L292.83 263.14L294.11 260.24L295.39 257.34L296.67 254.46L297.95 251.59L299.24 248.73L300.52 245.88L301.80 243.04L303.08 240.21L304.36 237.38L305.65 234.56L306.93 231.76L308.21 228.95L309.49 226.17L310.77 223.39L312.06 220.63L313.34 217.90L314.62 215.20L315.90 212.52L317.18 209.89L318.47 207.31L319.75 204.77L321.03 202.29L322.31 199.87L323.59 197.50L324.88 195.18L326.16 192.92L327.44 190.69L328.72 188.52L330.01 186.38L331.29 184.28L332.57 182.22L333.85 180.19L335.13 178.20L336.42 176.23L337.70 174.30L338.98 172.40L340.26 170.53L341.54 168.70L342.83 166.91L344.11 165.16L345.39 163.45L346.67 161.78L347.95 160.16L349.24 158.58L350.52 157.06L351.80 155.57L353.08 154.14L354.36 152.76L355.65 151.43L356.93 150.15L358.21 148.91L359.49 147.73L360.77 146.59L362.06 145.51L363.34 144.47L364.62 143.48L365.90 142.53L367.18 141.62L368.47 140.76L369.75 139.94L371.03 139.16L372.31 138.41L373.59 137.70L374.88 137.03L376.16 136.38L377.44 135.77L378.72 135.18L380.01 134.62L381.29 134.08L382.57 133.57L383.85 133.08L385.13 132.61L386.42 132.16L387.70 131.73L388.98 131.32L390.26 130.92L391.54 130.53L392.83 130.16L394.11 129.80L395.39 129.45L396.67 129.12L397.95 128.79L399.24 128.47L400.52 128.16L401.80 127.86L403.08 127.57L404.36 127.28L405.65 127.00L406.93 126.72L408.21 126.45L409.49 126.19L410.77 125.93L412.06 125.67L413.34 125.42L414.62 125.17L415.90 124.92L417.18 124.68L418.47 124.44L419.75 124.20L421.03 123.97L422.31 123.73L423.59 123.50L424.88 123.28L426.16 123.05L427.44 122.83L428.72 122.60L430.01 122.38L431.29 122.16L432.57 121.94L433.85 121.73L435.13 121.51L436.42 121.29L437.70 121.08L438.98 120.87L440.26 120.66L441.54 120.45L442.83 120.24L444.11 120.03L445.39 119.82L446.67 119.61L447.95 119.41L449.24 119.20L450.52 119.00L451.80 118.79L453.08 118.59L454.36 118.39L455.65 118.19L456.93 117.99L458.21 117.79L459.49 117.59L460.77 117.39L462.06 117.19L463.34 117.00L464.62 116.80L465.90 116.61L467.18 116.41L468.47 116.22L469.75 116.02L471.03 115.83L472.31 115.64L473.59 115.45L474.88 115.26L476.16 115.07L477.44 114.88L478.72 114.69L480.01 114.51L481.29 114.32L482.57 114.13L483.85 113.95L485.13 113.76L486.42 113.58L487.70 113.40L488.98 113.22L490.26 113.04L491.54 112.86L492.83 112.68L494.11 112.50L495.39 112.32L496.67 112.14L497.95 111.97L499.24 111.79L500.52 111.61L501.80 111.44L503.08 111.27L504.36 111.10L505.65 110.92L506.93 110.75L508.21 110.58L509.49 110.41L510.77 110.25L512.06 110.08L513.34 109.91L514.62 109.75L515.90 109.58L517.18 109.42L518.47 109.26L519.75 109.10L521.03 108.93L522.31 108.77L523.59 108.62L524.88 108.46L526.16 108.30L527.44 108.14L528.72 107.99L530.01 107.84L531.29 107.68L532.57 107.53L533.85 107.38L535.13 107.23L536.42 107.08L537.70 106.93L538.98 106.78L540.26 106.64L541.54 106.49L542.83 106.35L544.11 106.21L545.39 106.06L546.67 105.92L547.95 105.78L549.24 105.64L550.52 105.51L551.80 105.37L553.08 105.23L554.36 105.10L555.65 104.97L556.93 104.83L558.21 104.70L559.49 104.57L560.77 104.45L562.06 104.32L563.34 104.19L564.62 104.07L565.90 103.94L567.18 103.82L568.47 103.70L569.75 103.58L571.03 103.46L572.31 103.34L573.59 103.22L574.88 103.11L576.16 102.99L577.44 102.88L578.72 102.77L580.01 102.66L581.29 102.55L582.57 102.44L583.85 102.33L585.13 102.23L586.42 102.12L587.70 102.02L588.98 101.92L590.26 101.82L591.54 101.72L592.83 101.62L594.11 101.53L595.39 101.43L596.67 101.34L597.95 101.25L599.24 101.16L600.52 101.07L601.80 100.98L603.08 100.89L604.36 100.81L605.65 100.72L606.93 100.64L608.21 100.56L609.49 100.48L610.77 100.40L612.06 100.33L613.34 100.25L614.62 100.18L615.90 100.11L617.18 100.04L618.47 99.97L619.75 99.90L621.03 99.84L622.31 99.77L623.59 99.71L624.88 99.65L626.16 99.59L627.44 99.53L628.72 99.47L630.01 99.42L631.29 99.36L632.57 99.31L633.85 99.26L635.13 99.21L636.42 99.17L637.70 99.12L638.98 99.08L640.26 99.04L641.54 99.00L642.83 98.96L644.11 98.92L645.39 98.88L646.67 98.85L647.95 98.82L649.24 98.79L650.52 98.76L651.80 98.73L653.08 98.71L654.36 98.68L655.65 98.66L656.93 98.64L658.21 98.63L659.49 98.61L660.77 98.59L662.06 98.58L663.34 98.57L664.62 98.56L665.90 98.55L667.18 98.55L668.47 98.55L669.75 98.54L671.03 98.54L672.31 98.55L673.59 98.55L674.88 98.55L676.16 98.56L677.44 98.57L678.72 98.58L680.01 98.60L681.29 98.61L682.57 98.63L683.85 98.65L685.13 98.67L686.42 98.69L687.70 98.72L688.98 98.74L690.26 98.77L691.54 98.80L692.83 98.84L694.11 98.87L695.39 98.91L696.67 98.95L697.95 98.99L698.00 98.99"/>
<path d="M266.60 426.12L267.88 413.41L269.16 403.73L270.45 396.48L271.73 391.12L273.01 387.10L274.29 383.89L275.57 380.97L276.86 377.89L278.14 374.61L279.42 371.32L280.70 368.13L281.98 365.02L283.27 361.97L284.55 358.92L285.83 355.85L287.11 352.73L288.39 349.51L289.68 346.16L290.96 342.69L292.24 339.11L293.52 335.45L294.81 331.73L296.09 327.96L297.37 324.17L298.65 320.39L299.93 316.63L301.22 312.93L302.50 309.29L303.78 305.75L305.06 302.32L306.34 299.04L307.63 295.92L308.91 292.95L310.19 290.11L311.47 287.37L312.75 284.70L314.04 282.09L315.32 279.50L316.60 276.91L317.88 274.30L319.16 271.65L320.45 268.98L321.73 266.27L323.01 263.53L324.29 260.78L325.57 258.00L326.86 255.21L328.14 252.41L329.42 249.60L330.70 246.79L331.98 243.98L333.27 241.18L334.55 238.38L335.83 235.59L337.11 232.81L338.39 230.03L339.68 227.26L340.96 224.48L342.24 221.69L343.52 218.90L344.81 216.10L346.09 213.31L347.37 210.55L348.65 207.81L349.93 205.11L351.22 202.47L352.50 199.89L353.78 197.37L355.06 194.90L356.34 192.50L357.63 190.16L358.91 187.87L360.19 185.65L361.47 183.49L362.75 181.38L364.04 179.34L365.32 177.35L366.60 175.42L367.88 173.54L369.16 171.73L370.45 169.97L371.73 168.27L373.01 166.62L374.29 165.03L375.57 163.49L376.86 162.01L378.14 160.58L379.42 159.20L380.70 157.87L381.98 156.59L383.27 155.36L384.55 154.18L385.83 153.04L387.11 151.94L388.39 150.89L389.68 149.87L390.96 148.90L392.24 147.95L393.52 147.05L394.81 146.17L396.09 145.32L397.37 144.51L398.65 143.71L399.93 142.94L401.22 142.19L402.50 141.47L403.78 140.76L405.06 140.08L406.34 139.41L407.63 138.76L408.91 138.12L410.19 137.51L411.47 136.91L412.75 136.32L414.04 135.75L415.32 135.19L416.60 134.64L417.88 134.11L419.16 133.58L420.45 133.07L421.73 132.57L423.01 132.08L424.29 131.59L425.57 131.12L426.86 130.65L428.14 130.19L429.42 129.74L430.70 129.29L431.98 128.85L433.27 128.42L434.55 128.00L435.83 127.58L437.11 127.16L438.39 126.75L439.68 126.35L440.96 125.95L442.24 125.56L443.52 125.17L444.81 124.79L446.09 124.41L447.37 124.04L448.65 123.67L449.93 123.31L451.22 122.95L452.50 122.60L453.78 122.25L455.06 121.91L456.34 121.57L457.63 121.24L458.91 120.91L460.19 120.59L461.47 120.27L462.75 119.96L464.04 119.66L465.32 119.36L466.60 119.06L467.88 118.77L469.16 118.49L470.45 118.21L471.73 117.93L473.01 117.65L474.29 117.39L475.57 117.12L476.86 116.86L478.14 116.60L479.42 116.35L480.70 116.10L481.98 115.85L483.27 115.61L484.55 115.37L485.83 115.13L487.11 114.90L488.39 114.67L489.68 114.44L490.96 114.22L492.24 114.00L493.52 113.78L494.81 113.57L496.09 113.36L497.37 113.15L498.65 112.94L499.93 112.74L501.22 112.54L502.50 112.34L503.78 112.14L505.06 111.95L506.34 111.76L507.63 111.57L508.91 111.39L510.19 111.20L511.47 111.02L512.75 110.84L514.04 110.67L515.32 110.49L516.60 110.32L517.88 110.15L519.16 109.99L520.45 109.82L521.73 109.66L523.01 109.50L524.29 109.34L525.57 109.19L526.86 109.03L528.14 108.88L529.42 108.73L530.70 108.58L531.98 108.43L533.27 108.29L534.55 108.15L535.83 108.01L537.11 107.87L538.39 107.73L539.68 107.60L540.96 107.47L542.24 107.33L543.52 107.21L544.81 107.08L546.09 106.95L547.37 106.83L548.65 106.70L549.93 106.58L551.22 106.47L552.50 106.35L553.78 106.23L555.06 106.12L556.34 106.00L557.63 105.89L558.91 105.78L560.19 105.68L561.47 105.57L562.75 105.46L564.04 105.36L565.32 105.26L566.60 105.16L567.88 105.06L569.16 104.96L570.45 104.86L571.73 104.77L573.01 104.67L574.29 104.58L575.57 104.49L576.86 104.40L578.14 104.31L579.42 104.22L580.70 104.14L581.98 104.05L583.27 103.97L584.55 103.89L585.83 103.80L587.11 103.72L588.39 103.64L589.68 103.57L590.96 103.49L592.24 103.41L593.52 103.34L594.81 103.26L596.09 103.19L597.37 103.12L598.65 103.05L599.93 102.98L601.22 102.91L602.50 102.84L603.78 102.77L605.06 102.71L606.34 102.64L607.63 102.58L608.91 102.51L610.19 102.45L611.47 102.39L612.75 102.33L614.04 102.27L615.32 102.21L616.60 102.15L617.88 102.09L619.16 102.03L620.45 101.97L621.73 101.92L623.01 101.86L624.29 101.81L625.57 101.75L626.86 101.70L628.14 101.64L629.42 101.59L630.70 101.54L631.98 101.49L633.27 101.44L634.55 101.39L635.83 101.34L637.11 101.29L638.39 101.24L639.68 101.19L640.96 101.14L642.24 101.09L643.52 101.04L644.81 101.00L646.09 100.95L647.37 100.90L648.65 100.85L649.93 100.81L651.22 100.76L652.50 100.72L653.78 100.67L655.06 100.63L656.34 100.58L657.63 100.54L658.91 100.49L660.19 100.45L661.47 100.40L662.75 100.36L664.04 100.31L665.32 100.27L666.60 100.23L667.88 100.18L669.16 100.14L670.45 100.10L671.73 100.05L673.01 100.01L674.29 99.96L675.57 99.92L676.86 99.88L678.14 99.83L679.42 99.79L680.70 99.74L681.98 99.70L683.27 99.65L684.55 99.61L685.83 99.56L687.11 99.52L688.39 99.47L689.68 99.43L690.96 99.38L692.24 99.34L693.52 99.29L694.81 99.24L696.09 99.20L697.37 99.15L698.00 99.12"/>
<path d="M277.50 426.67L278.78 416.07L280.06 407.30L281.35 399.17L282.63 391.32L283.91 383.76L285.19 376.59L286.47 369.95L287.76 363.83L289.04 358.14L290.32 352.83L291.60 347.84L292.88 343.14L294.17 338.68L295.45 334.43L296.73 330.36L298.01 326.45L299.29 322.68L300.58 319.03L301.86 315.48L303.14 312.04L304.42 308.68L305.71 305.41L306.99 302.20L308.27 299.06L309.55 295.98L310.83 292.95L312.12 289.97L313.40 287.02L314.68 284.12L315.96 281.24L317.24 278.39L318.53 275.56L319.81 272.75L321.09 269.96L322.37 267.17L323.65 264.39L324.94 261.61L326.22 258.84L327.50 256.06L328.78 253.29L330.06 250.51L331.35 247.72L332.63 244.93L333.91 242.13L335.19 239.33L336.47 236.52L337.76 233.72L339.04 230.91L340.32 228.11L341.60 225.30L342.88 222.49L344.17 219.67L345.45 216.86L346.73 214.05L348.01 211.27L349.29 208.52L350.58 205.81L351.86 203.15L353.14 200.56L354.42 198.02L355.71 195.54L356.99 193.13L358.27 190.78L359.55 188.48L360.83 186.25L362.12 184.07L363.40 181.96L364.68 179.90L365.96 177.90L367.24 175.95L368.53 174.06L369.81 172.23L371.09 170.46L372.37 168.74L373.65 167.08L374.94 165.47L376.22 163.92L377.50 162.42L378.78 160.97L380.06 159.58L381.35 158.24L382.63 156.94L383.91 155.70L385.19 154.50L386.47 153.35L387.76 152.24L389.04 151.17L390.32 150.15L391.60 149.16L392.88 148.21L394.17 147.29L395.45 146.41L396.73 145.55L398.01 144.73L399.29 143.93L400.58 143.15L401.86 142.40L403.14 141.67L404.42 140.95L405.71 140.26L406.99 139.59L408.27 138.93L409.55 138.30L410.83 137.68L412.12 137.07L413.40 136.48L414.68 135.90L415.96 135.34L417.24 134.79L418.53 134.25L419.81 133.73L421.09 133.21L422.37 132.71L423.65 132.21L424.94 131.73L426.22 131.25L427.50 130.78L428.78 130.32L430.06 129.86L431.35 129.42L432.63 128.98L433.91 128.54L435.19 128.11L436.47 127.69L437.76 127.28L439.04 126.87L440.32 126.46L441.60 126.06L442.88 125.67L444.17 125.28L445.45 124.90L446.73 124.52L448.01 124.14L449.29 123.77L450.58 123.41L451.86 123.05L453.14 122.69L454.42 122.35L455.71 122.00L456.99 121.66L458.27 121.33L459.55 121.00L460.83 120.68L462.12 120.36L463.40 120.05L464.68 119.74L465.96 119.44L467.24 119.14L468.53 118.85L469.81 118.57L471.09 118.28L472.37 118.00L473.65 117.73L474.94 117.46L476.22 117.19L477.50 116.93L478.78 116.67L480.06 116.42L481.35 116.17L482.63 115.92L483.91 115.68L485.19 115.44L486.47 115.20L487.76 114.97L489.04 114.73L490.32 114.51L491.60 114.28L492.88 114.06L494.17 113.84L495.45 113.63L496.73 113.42L498.01 113.21L499.29 113.00L500.58 112.79L501.86 112.59L503.14 112.39L504.42 112.20L505.71 112.00L506.99 111.81L508.27 111.62L509.55 111.44L510.83 111.25L512.12 111.07L513.40 110.89L514.68 110.72L515.96 110.54L517.24 110.37L518.53 110.20L519.81 110.03L521.09 109.87L522.37 109.71L523.65 109.54L524.94 109.39L526.22 109.23L527.50 109.07L528.78 108.92L530.06 108.77L531.35 108.62L532.63 108.48L533.91 108.33L535.19 108.19L536.47 108.05L537.76 107.91L539.04 107.77L540.32 107.64L541.60 107.50L542.88 107.37L544.17 107.24L545.45 107.11L546.73 106.99L548.01 106.86L549.29 106.74L550.58 106.62L551.86 106.50L553.14 106.38L554.42 106.26L555.71 106.15L556.99 106.04L558.27 105.92L559.55 105.81L560.83 105.71L562.12 105.60L563.40 105.49L564.68 105.39L565.96 105.29L567.24 105.19L568.53 105.09L569.81 104.99L571.09 104.89L572.37 104.79L573.65 104.70L574.94 104.61L576.22 104.52L577.50 104.43L578.78 104.34L580.06 104.25L581.35 104.16L582.63 104.08L583.91 103.99L585.19 103.91L586.47 103.83L587.76 103.75L589.04 103.67L590.32 103.59L591.60 103.51L592.88 103.43L594.17 103.36L595.45 103.28L596.73 103.21L598.01 103.14L599.29 103.07L600.58 103.00L601.86 102.93L603.14 102.86L604.42 102.79L605.71 102.73L606.99 102.66L608.27 102.59L609.55 102.53L610.83 102.47L612.12 102.41L613.40 102.34L614.68 102.28L615.96 102.22L617.24 102.16L618.53 102.10L619.81 102.05L621.09 101.99L622.37 101.93L623.65 101.88L624.94 101.82L626.22 101.77L627.50 101.71L628.78 101.66L630.06 101.61L631.35 101.55L632.63 101.50L633.91 101.45L635.19 101.40L636.47 101.35L637.76 101.30L639.04 101.25L640.32 101.20L641.60 101.15L642.88 101.10L644.17 101.06L645.45 101.01L646.73 100.96L648.01 100.91L649.29 100.87L650.58 100.82L651.86 100.78L653.14 100.73L654.42 100.68L655.71 100.64L656.99 100.59L658.27 100.55L659.55 100.50L660.83 100.46L662.12 100.42L663.40 100.37L664.68 100.33L665.96 100.28L667.24 100.24L668.53 100.20L669.81 100.15L671.09 100.11L672.37 100.06L673.65 100.02L674.94 99.98L676.22 99.93L677.50 99.89L678.78 99.84L680.06 99.80L681.35 99.76L682.63 99.71L683.91 99.67L685.19 99.62L686.47 99.58L687.76 99.53L689.04 99.49L690.32 99.44L691.60 99.39L692.88 99.35L694.17 99.30L695.45 99.26L696.73 99.21L698.00 99.16"/>
<path d="M282.60 392.42L283.88 387.16L285.16 381.44L286.45 375.36L287.73 369.04L289.01 362.66L290.29 356.40L291.57 350.46L292.86 345.05L294.14 340.22L295.42 335.85L296.70 331.84L297.98 328.09L299.27 324.48L300.55 320.96L301.83 317.52L303.11 314.15L304.39 310.85L305.68 307.60L306.96 304.40L308.24 301.25L309.52 298.14L310.81 295.06L312.09 292.01L313.37 289.00L314.65 286.01L315.93 283.04L317.22 280.10L318.50 277.17L319.78 274.26L321.06 271.37L322.34 268.50L323.63 265.64L324.91 262.80L326.19 259.97L327.47 257.15L328.75 254.34L330.04 251.55L331.32 248.78L332.60 246.01L333.88 243.26L335.16 240.52L336.45 237.78L337.73 235.05L339.01 232.31L340.29 229.58L341.57 226.83L342.86 224.07L344.14 221.29L345.42 218.49L346.70 215.69L347.98 212.89L349.27 210.11L350.55 207.36L351.83 204.65L353.11 202.00L354.39 199.41L355.68 196.88L356.96 194.41L358.24 192.00L359.52 189.65L360.81 187.37L362.09 185.15L363.37 182.99L364.65 180.89L365.93 178.85L367.22 176.88L368.50 174.96L369.78 173.10L371.06 171.30L372.34 169.56L373.63 167.87L374.91 166.24L376.19 164.66L377.47 163.14L378.75 161.68L380.04 160.26L381.32 158.89L382.60 157.58L383.88 156.31L385.16 155.10L386.45 153.92L387.73 152.79L389.01 151.71L390.29 150.66L391.57 149.65L392.86 148.69L394.14 147.75L395.42 146.85L396.70 145.98L397.98 145.14L399.27 144.33L400.55 143.54L401.83 142.77L403.11 142.03L404.39 141.31L405.68 140.61L406.96 139.92L408.24 139.26L409.52 138.61L410.81 137.98L412.09 137.37L413.37 136.77L414.65 136.19L415.93 135.62L417.22 135.06L418.50 134.52L419.78 133.99L421.06 133.47L422.34 132.96L423.63 132.46L424.91 131.96L426.19 131.48L427.47 131.01L428.75 130.54L430.04 130.09L431.32 129.63L432.60 129.19L433.88 128.75L435.16 128.32L436.45 127.90L437.73 127.48L439.01 127.07L440.29 126.66L441.57 126.26L442.86 125.86L444.14 125.47L445.42 125.08L446.70 124.70L447.98 124.33L449.27 123.95L450.55 123.59L451.83 123.22L453.11 122.87L454.39 122.52L455.68 122.17L456.96 121.83L458.24 121.49L459.52 121.16L460.81 120.84L462.09 120.52L463.37 120.20L464.65 119.89L465.93 119.59L467.22 119.29L468.50 119.00L469.78 118.71L471.06 118.42L472.34 118.14L473.63 117.86L474.91 117.59L476.19 117.32L477.47 117.06L478.75 116.80L480.04 116.54L481.32 116.29L482.60 116.04L483.88 115.80L485.16 115.55L486.45 115.32L487.73 115.08L489.01 114.85L490.29 114.62L491.57 114.39L492.86 114.17L494.14 113.95L495.42 113.73L496.70 113.52L497.98 113.31L499.27 113.10L500.55 112.89L501.83 112.69L503.11 112.49L504.39 112.29L505.68 112.10L506.96 111.91L508.24 111.72L509.52 111.53L510.81 111.34L512.09 111.16L513.37 110.98L514.65 110.80L515.93 110.63L517.22 110.45L518.50 110.28L519.78 110.12L521.06 109.95L522.34 109.78L523.63 109.62L524.91 109.46L526.19 109.31L527.47 109.15L528.75 109.00L530.04 108.84L531.32 108.69L532.60 108.55L533.88 108.40L535.16 108.26L536.45 108.12L537.73 107.98L539.01 107.84L540.29 107.70L541.57 107.57L542.86 107.43L544.14 107.30L545.42 107.18L546.70 107.05L547.98 106.92L549.27 106.80L550.55 106.68L551.83 106.56L553.11 106.44L554.39 106.32L555.68 106.21L556.96 106.09L558.24 105.98L559.52 105.87L560.81 105.76L562.09 105.65L563.37 105.54L564.65 105.44L565.93 105.34L567.22 105.23L568.50 105.13L569.78 105.04L571.06 104.94L572.34 104.84L573.63 104.75L574.91 104.65L576.19 104.56L577.47 104.47L578.75 104.38L580.04 104.29L581.32 104.20L582.60 104.12L583.88 104.03L585.16 103.95L586.45 103.87L587.73 103.79L589.01 103.71L590.29 103.63L591.57 103.55L592.86 103.47L594.14 103.40L595.42 103.32L596.70 103.25L597.98 103.17L599.27 103.10L600.55 103.03L601.83 102.96L603.11 102.89L604.39 102.83L605.68 102.76L606.96 102.69L608.24 102.63L609.52 102.56L610.81 102.50L612.09 102.44L613.37 102.37L614.65 102.31L615.93 102.25L617.22 102.19L618.50 102.13L619.78 102.07L621.06 102.02L622.34 101.96L623.63 101.90L624.91 101.85L626.19 101.79L627.47 101.74L628.75 101.69L630.04 101.63L631.32 101.58L632.60 101.53L633.88 101.48L635.16 101.42L636.45 101.37L637.73 101.32L639.01 101.27L640.29 101.22L641.57 101.18L642.86 101.13L644.14 101.08L645.42 101.03L646.70 100.98L647.98 100.94L649.27 100.89L650.55 100.84L651.83 100.80L653.11 100.75L654.39 100.71L655.68 100.66L656.96 100.62L658.24 100.57L659.52 100.53L660.81 100.48L662.09 100.44L663.37 100.39L664.65 100.35L665.93 100.30L667.22 100.26L668.50 100.22L669.78 100.17L671.06 100.13L672.34 100.08L673.63 100.04L674.91 100.00L676.19 99.95L677.47 99.91L678.75 99.87L680.04 99.82L681.32 99.78L682.60 99.73L683.88 99.69L685.16 99.64L686.45 99.60L687.73 99.55L689.01 99.51L690.29 99.46L691.57 99.42L692.86 99.37L694.14 99.32L695.42 99.28L696.70 99.23L697.98 99.18L698.00 99.18"/>
<path d="M501.00 425.76L502.28 420.79L503.56 416.05L504.85 411.51L506.13 407.14L507.41 402.93L508.69 398.85L509.97 394.89L511.26 391.05L512.54 387.29L513.82 383.63L515.10 380.05L516.38 376.54L517.67 373.10L518.95 369.71L520.23 366.39L521.51 363.11L522.79 359.89L524.08 356.71L525.36 353.56L526.64 350.46L527.92 347.39L529.21 344.36L530.49 341.35L531.77 338.38L533.05 335.43L534.33 332.51L535.62 329.61L536.90 326.73L538.18 323.87L539.46 321.03L540.74 318.21L542.03 315.41L543.31 312.62L544.59 309.85L545.87 307.10L547.15 304.35L548.44 301.63L549.72 298.91L551.00 296.20L552.28 293.51L553.56 290.83L554.85 288.15L556.13 285.49L557.41 282.84L558.69 280.19L559.97 277.56L561.26 274.93L562.54 272.32L563.82 269.71L565.10 267.12L566.38 264.53L567.67 261.96L568.95 259.39L570.23 256.84L571.51 254.30L572.79 251.77L574.08 249.25L575.36 246.75L576.64 244.26L577.92 241.79L579.21 239.32L580.49 236.88L581.77 234.45L583.05 232.04L584.33 229.64L585.62 227.26L586.90 224.91L588.18 222.57L589.46 220.25L590.74 217.96L592.03 215.68L593.31 213.43L594.59 211.21L595.87 209.01L597.15 206.84L598.44 204.69L599.72 202.58L601.00 200.49L602.28 198.44L603.56 196.42L604.85 194.43L606.13 192.47L607.41 190.55L608.69 188.67L609.97 186.82L611.26 185.01L612.54 183.24L613.82 181.51L615.10 179.82L616.38 178.17L617.67 176.55L618.95 174.98L620.23 173.45L621.51 171.95L622.79 170.50L624.08 169.09L625.36 167.72L626.64 166.38L627.92 165.09L629.21 163.84L630.49 162.63L631.77 161.45L633.05 160.32L634.33 159.22L635.62 158.16L636.90 157.13L638.18 156.14L639.46 155.18L640.74 154.26L642.03 153.37L643.31 152.51L644.59 151.68L645.87 150.87L647.15 150.10L648.44 149.35L649.72 148.63L651.00 147.93L652.28 147.25L653.56 146.59L654.85 145.96L656.13 145.34L657.41 144.74L658.69 144.16L659.97 143.59L661.26 143.04L662.54 142.50L663.82 141.97L665.10 141.46L666.38 140.95L667.67 140.45L668.95 139.96L670.23 139.48L671.51 139.00L672.79 138.53L674.08 138.07L675.36 137.60L676.64 137.14L677.92 136.68L679.21 136.23L680.49 135.77L681.77 135.31L683.05 134.86L684.33 134.40L685.62 133.93L686.90 133.47L688.18 133.00L689.46 132.53L690.74 132.05L692.03 131.57L693.31 131.08L694.59 130.59L695.87 130.09L697.15 129.58L698.00 129.24"/>
<path d="M515.40 426.49L516.68 420.24L517.96 414.43L519.25 409.00L520.53 403.87L521.81 399.00L523.09 394.36L524.37 389.92L525.66 385.64L526.94 381.51L528.22 377.52L529.50 373.64L530.78 369.87L532.07 366.19L533.35 362.60L534.63 359.09L535.91 355.65L537.19 352.28L538.48 348.96L539.76 345.70L541.04 342.49L542.32 339.33L543.61 336.21L544.89 333.13L546.17 330.08L547.45 327.08L548.73 324.10L550.02 321.15L551.30 318.23L552.58 315.34L553.86 312.47L555.14 309.63L556.43 306.81L557.71 304.00L558.99 301.22L560.27 298.45L561.55 295.71L562.84 292.97L564.12 290.26L565.40 287.55L566.68 284.86L567.96 282.19L569.25 279.52L570.53 276.87L571.81 274.23L573.09 271.60L574.37 268.98L575.66 266.37L576.94 263.77L578.22 261.18L579.50 258.60L580.78 256.03L582.07 253.47L583.35 250.92L584.63 248.38L585.91 245.85L587.19 243.32L588.48 240.81L589.76 238.30L591.04 235.81L592.32 233.33L593.61 230.85L594.89 228.39L596.17 225.94L597.45 223.50L598.73 221.07L600.02 218.66L601.30 216.26L602.58 213.87L603.86 211.50L605.14 209.14L606.43 206.81L607.71 204.49L608.99 202.19L610.27 199.91L611.55 197.66L612.84 195.43L614.12 193.22L615.40 191.05L616.68 188.90L617.96 186.79L619.25 184.71L620.53 182.66L621.81 180.66L623.09 178.69L624.37 176.77L625.66 174.90L626.94 173.07L628.22 171.29L629.50 169.56L630.78 167.88L632.07 166.26L633.35 164.70L634.63 163.19L635.91 161.74L637.19 160.35L638.48 159.02L639.76 157.75L641.04 156.53L642.32 155.37L643.61 154.27L644.89 153.23L646.17 152.23L647.45 151.29L648.73 150.40L650.02 149.56L651.30 148.76L652.58 148.00L653.86 147.28L655.14 146.60L656.43 145.95L657.71 145.34L658.99 144.76L660.27 144.20L661.55 143.67L662.84 143.16L664.12 142.68L665.40 142.21L666.68 141.76L667.96 141.33L669.25 140.91L670.53 140.50L671.81 140.11L673.09 139.72L674.37 139.35L675.66 138.98L676.94 138.62L678.22 138.26L679.50 137.91L680.78 137.57L682.07 137.23L683.35 136.89L684.63 136.55L685.91 136.21L687.19 135.88L688.48 135.54L689.76 135.21L691.04 134.88L692.32 134.54L693.61 134.21L694.89 133.87L696.17 133.53L697.45 133.19L698.00 133.05"/>
<path d="M518.40 426.71L519.68 419.89L520.96 413.62L522.25 407.80L523.53 402.35L524.81 397.20L526.09 392.32L527.37 387.67L528.66 383.21L529.94 378.92L531.22 374.78L532.50 370.78L533.78 366.90L535.07 363.13L536.35 359.45L537.63 355.86L538.91 352.35L540.19 348.92L541.48 345.55L542.76 342.24L544.04 338.99L545.32 335.79L546.61 332.63L547.89 329.52L549.17 326.45L550.45 323.42L551.73 320.43L553.02 317.46L554.30 314.53L555.58 311.63L556.86 308.75L558.14 305.89L559.43 303.06L560.71 300.25L561.99 297.46L563.27 294.69L564.55 291.93L565.84 289.19L567.12 286.47L568.40 283.76L569.68 281.06L570.96 278.38L572.25 275.70L573.53 273.04L574.81 270.40L576.09 267.76L577.37 265.13L578.66 262.52L579.94 259.92L581.22 257.32L582.50 254.74L583.78 252.17L585.07 249.62L586.35 247.07L587.63 244.53L588.91 242.01L590.19 239.50L591.48 237.00L592.76 234.52L594.04 232.05L595.32 229.60L596.61 227.16L597.89 224.73L599.17 222.32L600.45 219.93L601.73 217.56L603.02 215.21L604.30 212.87L605.58 210.56L606.86 208.27L608.14 206.01L609.43 203.77L610.71 201.55L611.99 199.37L613.27 197.21L614.55 195.09L615.84 193.00L617.12 190.94L618.40 188.92L619.68 186.94L620.96 185.00L622.25 183.09L623.53 181.23L624.81 179.41L626.09 177.64L627.37 175.91L628.66 174.23L629.94 172.60L631.22 171.02L632.50 169.48L633.78 168.00L635.07 166.57L636.35 165.18L637.63 163.85L638.91 162.57L640.19 161.34L641.48 160.15L642.76 159.02L644.04 157.93L645.32 156.89L646.61 155.90L647.89 154.95L649.17 154.04L650.45 153.17L651.73 152.34L653.02 151.55L654.30 150.79L655.58 150.07L656.86 149.38L658.14 148.72L659.43 148.08L660.71 147.47L661.99 146.89L663.27 146.32L664.55 145.78L665.84 145.26L667.12 144.75L668.40 144.26L669.68 143.79L670.96 143.32L672.25 142.87L673.53 142.43L674.81 141.99L676.09 141.57L677.37 141.15L678.66 140.73L679.94 140.32L681.22 139.92L682.50 139.51L683.78 139.11L685.07 138.71L686.35 138.31L687.63 137.91L688.91 137.51L690.19 137.11L691.48 136.70L692.76 136.30L694.04 135.88L695.32 135.47L696.61 135.05L697.89 134.63L698.00 134.59"/>
</g>
<path d="M98.00 348.20 L98.33 348.74 L98.66 349.29 L99.00 349.84 L99.33 350.38 L99.66 350.93 L99.99 351.48 L100.33 352.03 L100.66 352.58 L100.99 353.14 L101.32 353.69 L101.66 354.25 L101.99 354.80 L102.32 355.36 L102.65 355.92 L102.99 356.48 L103.32 357.04 L103.65 357.60 L103.98 358.16 L104.32 358.72 L104.65 359.29 L104.98 359.85 L105.31 360.42 L105.64 360.99 L105.98 361.55 L106.31 362.12 L106.64 362.69 L106.97 363.26 L107.31 363.84 L107.64 364.41 L107.97 364.98 L108.30 365.56 L108.64 366.14 L108.97 366.71 L109.30 367.29 L109.63 367.87 L109.97 368.45 L110.30 369.03 L110.63 369.61 L110.96 370.20 L111.29 370.78 L111.63 371.36 L111.96 371.95 L112.29 372.54 L112.62 373.12 L112.96 373.71 L113.29 374.30 L113.62 374.89 L113.95 375.47 L114.29 376.03 L114.62 376.59 L114.95 377.14 L115.28 377.68 L115.62 378.21 L115.95 378.73 L116.28 379.25 L116.61 379.77 L116.95 380.28 L117.28 380.79 L117.61 381.29 L117.94 381.80 L118.27 382.30 L118.61 382.81 L118.94 383.31 L119.27 383.82 L119.60 384.33 L119.94 384.84 L120.27 385.36 L120.60 385.89 L120.93 386.42 L121.27 386.96 L121.60 387.51 L121.93 388.06 L122.26 388.63 L122.60 389.20 L122.93 389.79 L123.26 390.39 L123.59 391.00 L123.93 391.63 L124.26 392.27 L124.59 392.93 L124.92 393.61 L125.25 394.30 L125.59 395.01 L125.92 395.74 L126.25 396.49 L126.58 397.26 L126.92 398.05 L127.25 398.87 L127.58 399.71 L127.91 400.57 L128.25 401.46 L128.58 402.38 L128.91 403.32 L129.24 404.32 L129.58 405.38 L129.91 406.51 L130.24 407.69 L130.57 408.93 L130.91 410.24 L131.24 411.60 L131.57 413.02 L131.90 414.49 L132.23 416.01 L132.57 417.59 L132.90 419.23 L133.23 420.91 L133.56 422.64 L133.90 424.42 L134.23 426.25 L134.56 428.13 L134.89 430.05"/>
<path d="M98.00 354.60 L98.33 355.16 L98.66 355.72 L98.99 356.30 L99.32 356.89 L99.66 357.49 L99.99 358.10 L100.32 358.72 L100.65 359.35 L100.98 359.99 L101.31 360.64 L101.64 361.30 L101.97 361.96 L102.31 362.64 L102.64 363.33 L102.97 364.03 L103.30 364.73 L103.63 365.45 L103.96 366.17 L104.29 366.91 L104.62 367.65 L104.95 368.40 L105.29 369.16 L105.62 369.92 L105.95 370.70 L106.28 371.48 L106.61 372.27 L106.94 373.07 L107.27 373.87 L107.60 374.69 L107.94 375.51 L108.27 376.34 L108.60 377.17 L108.93 378.01 L109.26 378.86 L109.59 379.72 L109.92 380.58 L110.25 381.45 L110.58 382.32 L110.92 383.21 L111.25 384.09 L111.58 384.99 L111.91 385.89 L112.24 386.79 L112.57 387.70 L112.90 388.62 L113.23 389.54 L113.57 390.46 L113.90 391.40 L114.23 392.36 L114.56 393.32 L114.89 394.30 L115.22 395.29 L115.55 396.29 L115.88 397.30 L116.22 398.33 L116.55 399.37 L116.88 400.42 L117.21 401.48 L117.54 402.55 L117.87 403.64 L118.20 404.73 L118.53 405.84 L118.86 406.96 L119.20 408.09 L119.53 409.23 L119.86 410.38 L120.19 411.54 L120.52 412.71 L120.85 413.89 L121.18 415.08 L121.51 416.28 L121.85 417.50 L122.18 418.72 L122.51 419.95 L122.84 421.19 L123.17 422.44 L123.50 423.70 L123.83 424.97 L124.16 426.24 L124.49 427.53 L124.83 428.83 L125.16 430.13"/>
<path d="M98.00 367.40 L98.33 367.41 L98.66 367.43 L99.00 367.46 L99.33 367.50 L99.66 367.56 L99.99 367.62 L100.33 367.70 L100.66 367.79 L100.99 367.89 L101.32 368.01 L101.66 368.13 L101.99 368.26 L102.32 368.40 L102.65 368.55 L102.99 368.71 L103.32 368.88 L103.65 369.06 L103.98 369.25 L104.32 369.44 L104.65 369.65 L104.98 369.86 L105.31 370.08 L105.64 370.30 L105.98 370.54 L106.31 370.77 L106.64 371.02 L106.97 371.27 L107.31 371.53 L107.64 371.79 L107.97 372.06 L108.30 372.34 L108.64 372.62 L108.97 372.90 L109.30 373.19 L109.63 373.48 L109.97 373.78 L110.30 374.08 L110.63 374.38 L110.96 374.69 L111.29 375.00 L111.63 375.31 L111.96 375.62 L112.29 375.94 L112.62 376.25 L112.96 376.57 L113.29 376.89 L113.62 377.22 L113.95 377.56 L114.29 377.92 L114.62 378.29 L114.95 378.69 L115.28 379.09 L115.62 379.52 L115.95 379.97 L116.28 380.43 L116.61 380.90 L116.95 381.40 L117.28 381.91 L117.61 382.44 L117.94 382.99 L118.27 383.55 L118.61 384.13 L118.94 384.73 L119.27 385.34 L119.60 385.97 L119.94 386.62 L120.27 387.28 L120.60 387.96 L120.93 388.66 L121.27 389.37 L121.60 390.10 L121.93 390.85 L122.26 391.61 L122.60 392.40 L122.93 393.19 L123.26 394.01 L123.59 394.84 L123.93 395.69 L124.26 396.55 L124.59 397.43 L124.92 398.33 L125.25 399.24 L125.59 400.17 L125.92 401.12 L126.25 402.08 L126.58 403.06 L126.92 404.05 L127.25 405.06 L127.58 406.09 L127.91 407.14 L128.25 408.20 L128.58 409.27 L128.91 410.37 L129.24 411.53 L129.58 412.76 L129.91 414.06 L130.24 415.43 L130.57 416.87 L130.91 418.38 L131.24 419.96 L131.57 421.60 L131.90 423.30 L132.23 425.07 L132.57 426.90 L132.90 428.79 L133.23 430.74"/>
<path d="M98.00 372.20 L98.33 372.21 L98.66 372.24 L98.99 372.30 L99.32 372.37 L99.66 372.46 L99.99 372.58 L100.32 372.71 L100.65 372.86 L100.98 373.03 L101.31 373.21 L101.64 373.42 L101.97 373.64 L102.31 373.88 L102.64 374.13 L102.97 374.40 L103.30 374.68 L103.63 374.98 L103.96 375.29 L104.29 375.61 L104.62 375.95 L104.95 376.30 L105.29 376.66 L105.62 377.03 L105.95 377.42 L106.28 377.81 L106.61 378.22 L106.94 378.63 L107.27 379.06 L107.60 379.49 L107.94 379.93 L108.27 380.38 L108.60 380.84 L108.93 381.30 L109.26 381.77 L109.59 382.25 L109.92 382.73 L110.25 383.22 L110.58 383.71 L110.92 384.20 L111.25 384.70 L111.58 385.20 L111.91 385.71 L112.24 386.21 L112.57 386.72 L112.90 387.23 L113.23 387.74 L113.57 388.26 L113.90 388.80 L114.23 389.37 L114.56 389.97 L114.89 390.60 L115.22 391.25 L115.55 391.93 L115.88 392.64 L116.22 393.38 L116.55 394.14 L116.88 394.92 L117.21 395.74 L117.54 396.57 L117.87 397.43 L118.20 398.31 L118.53 399.22 L118.86 400.15 L119.20 401.10 L119.53 402.07 L119.86 403.06 L120.19 404.07 L120.52 405.11 L120.85 406.16 L121.18 407.23 L121.51 408.32 L121.85 409.43 L122.18 410.55 L122.51 411.69 L122.84 412.85 L123.17 414.03 L123.50 415.22 L123.83 416.43 L124.16 417.65 L124.49 418.88 L124.83 420.13 L125.16 421.39 L125.49 422.66 L125.82 423.95 L126.15 425.25 L126.48 426.56 L126.81 427.88 L127.14 429.21 L127.48 430.55"/>
<path d="M98.00 376.50 L98.33 376.54 L98.66 376.59 L98.99 376.67 L99.32 376.77 L99.66 376.89 L99.99 377.02 L100.32 377.17 L100.65 377.35 L100.98 377.53 L101.31 377.74 L101.64 377.96 L101.97 378.20 L102.31 378.45 L102.64 378.72 L102.97 379.01 L103.30 379.30 L103.63 379.62 L103.96 379.94 L104.29 380.28 L104.62 380.63 L104.95 380.99 L105.29 381.37 L105.62 381.75 L105.95 382.15 L106.28 382.56 L106.61 382.98 L106.94 383.40 L107.27 383.84 L107.60 384.28 L107.94 384.74 L108.27 385.20 L108.60 385.66 L108.93 386.14 L109.26 386.62 L109.59 387.11 L109.92 387.60 L110.25 388.10 L110.58 388.60 L110.92 389.11 L111.25 389.62 L111.58 390.13 L111.91 390.65 L112.24 391.17 L112.57 391.69 L112.90 392.21 L113.23 392.74 L113.57 393.27 L113.90 393.82 L114.23 394.40 L114.56 395.00 L114.89 395.64 L115.22 396.30 L115.55 396.98 L115.88 397.69 L116.22 398.42 L116.55 399.18 L116.88 399.96 L117.21 400.76 L117.54 401.58 L117.87 402.43 L118.20 403.30 L118.53 404.19 L118.86 405.10 L119.20 406.04 L119.53 406.99 L119.86 407.96 L120.19 408.95 L120.52 409.96 L120.85 410.99 L121.18 412.03 L121.51 413.10 L121.85 414.18 L122.18 415.27 L122.51 416.39 L122.84 417.52 L123.17 418.66 L123.50 419.82 L123.83 420.99 L124.16 422.18 L124.49 423.38 L124.83 424.59 L125.16 425.81 L125.49 427.05 L125.82 428.30 L126.15 429.56 L126.48 430.83"/>
<path d="M98.00 380.00 L98.33 380.14 L98.66 380.29 L98.99 380.46 L99.32 380.64 L99.66 380.84 L99.99 381.06 L100.32 381.28 L100.65 381.53 L100.98 381.78 L101.31 382.05 L101.64 382.33 L101.97 382.63 L102.31 382.94 L102.64 383.26 L102.97 383.59 L103.30 383.94 L103.63 384.29 L103.96 384.66 L104.29 385.04 L104.62 385.42 L104.95 385.82 L105.29 386.23 L105.62 386.65 L105.95 387.08 L106.28 387.51 L106.61 387.96 L106.94 388.41 L107.27 388.87 L107.60 389.34 L107.94 389.82 L108.27 390.30 L108.60 390.79 L108.93 391.29 L109.26 391.79 L109.59 392.30 L109.92 392.82 L110.25 393.34 L110.58 393.87 L110.92 394.40 L111.25 394.93 L111.58 395.47 L111.91 396.01 L112.24 396.56 L112.57 397.11 L112.90 397.67 L113.23 398.22 L113.57 398.78 L113.90 399.36 L114.23 399.96 L114.56 400.58 L114.89 401.22 L115.22 401.88 L115.55 402.56 L115.88 403.25 L116.22 403.97 L116.55 404.70 L116.88 405.46 L117.21 406.22 L117.54 407.01 L117.87 407.82 L118.20 408.64 L118.53 409.48 L118.86 410.33 L119.20 411.20 L119.53 412.08 L119.86 412.99 L120.19 413.90 L120.52 414.83 L120.85 415.78 L121.18 416.74 L121.51 417.71 L121.85 418.70 L122.18 419.70 L122.51 420.71 L122.84 421.73 L123.17 422.77 L123.50 423.82 L123.83 424.88 L124.16 425.95 L124.49 427.04 L124.83 428.13 L125.16 429.24 L125.49 430.35"/>
<path d="M98.00 386.00 L98.33 386.01 L98.66 386.04 L98.99 386.10 L99.32 386.17 L99.66 386.26 L99.99 386.38 L100.32 386.51 L100.65 386.66 L100.98 386.83 L101.31 387.01 L101.64 387.22 L101.97 387.44 L102.31 387.67 L102.64 387.93 L102.97 388.20 L103.30 388.48 L103.63 388.78 L103.96 389.09 L104.29 389.41 L104.62 389.75 L104.95 390.11 L105.29 390.47 L105.62 390.85 L105.95 391.23 L106.28 391.63 L106.61 392.04 L106.94 392.46 L107.27 392.89 L107.60 393.33 L107.94 393.77 L108.27 394.23 L108.60 394.69 L108.93 395.16 L109.26 395.64 L109.59 396.12 L109.92 396.61 L110.25 397.10 L110.58 397.60 L110.92 398.11 L111.25 398.62 L111.58 399.13 L111.91 399.65 L112.24 400.17 L112.57 400.69 L112.90 401.21 L113.23 401.74 L113.57 402.27 L113.90 402.83 L114.23 403.42 L114.56 404.05 L114.89 404.71 L115.22 405.40 L115.55 406.12 L115.88 406.87 L116.22 407.65 L116.55 408.46 L116.88 409.31 L117.21 410.17 L117.54 411.07 L117.87 411.99 L118.20 412.95 L118.53 413.92 L118.86 414.92 L119.20 415.95 L119.53 417.00 L119.86 418.08 L120.19 419.17 L120.52 420.29 L120.85 421.44 L121.18 422.60 L121.51 423.79 L121.85 424.99 L122.18 426.22 L122.51 427.46 L122.84 428.73 L123.17 430.01"/>
<path d="M98.00 391.50 L98.33 391.50 L98.66 391.50 L99.00 391.50 L99.33 391.51 L99.66 391.51 L99.99 391.52 L100.33 391.52 L100.66 391.53 L100.99 391.54 L101.32 391.55 L101.66 391.56 L101.99 391.57 L102.32 391.58 L102.65 391.60 L102.99 391.61 L103.32 391.63 L103.65 391.64 L103.98 391.66 L104.32 391.68 L104.65 391.69 L104.98 391.71 L105.31 391.73 L105.64 391.76 L105.98 391.78 L106.31 391.80 L106.64 391.83 L106.97 391.85 L107.31 391.88 L107.64 391.90 L107.97 391.93 L108.30 391.96 L108.64 391.99 L108.97 392.02 L109.30 392.05 L109.63 392.08 L109.97 392.11 L110.30 392.15 L110.63 392.18 L110.96 392.22 L111.29 392.25 L111.63 392.29 L111.96 392.33 L112.29 392.37 L112.62 392.41 L112.96 392.45 L113.29 392.49 L113.62 392.53 L113.95 392.61 L114.29 392.71 L114.62 392.83 L114.95 392.99 L115.28 393.16 L115.62 393.37 L115.95 393.60 L116.28 393.85 L116.61 394.13 L116.95 394.43 L117.28 394.76 L117.61 395.11 L117.94 395.48 L118.27 395.87 L118.61 396.29 L118.94 396.73 L119.27 397.19 L119.60 397.67 L119.94 398.17 L120.27 398.69 L120.60 399.24 L120.93 399.80 L121.27 400.38 L121.60 400.98 L121.93 401.60 L122.26 402.24 L122.60 402.89 L122.93 403.57 L123.26 404.26 L123.59 404.97 L123.93 405.69 L124.26 406.43 L124.59 407.19 L124.92 407.96 L125.25 408.75 L125.59 409.55 L125.92 410.37 L126.25 411.20 L126.58 412.04 L126.92 412.90 L127.25 413.77 L127.58 414.66 L127.91 415.55 L128.25 416.46 L128.58 417.38 L128.91 418.32 L129.24 419.36 L129.58 420.53 L129.91 421.82 L130.24 423.23 L130.57 424.76 L130.91 426.41 L131.24 428.17 L131.57 430.05"/>
<path d="M98.00 395.70 L113.40 546.00"/>
<path d="M98.00 400.20 L113.40 454.00"/>
<path d="M98.00 396.00 L113.40 430.80"/>
<path d="M98.00 405.50 L98.33 405.51 L98.66 405.53 L98.99 405.56 L99.32 405.60 L99.66 405.65 L99.99 405.72 L100.32 405.80 L100.65 405.89 L100.98 405.99 L101.31 406.10 L101.64 406.23 L101.97 406.36 L102.31 406.50 L102.64 406.66 L102.97 406.82 L103.30 406.99 L103.63 407.18 L103.96 407.37 L104.29 407.57 L104.62 407.78 L104.95 408.00 L105.29 408.23 L105.62 408.47 L105.95 408.71 L106.28 408.97 L106.61 409.23 L106.94 409.50 L107.27 409.77 L107.60 410.06 L107.94 410.35 L108.27 410.64 L108.60 410.95 L108.93 411.26 L109.26 411.58 L109.59 411.90 L109.92 412.23 L110.25 412.56 L110.58 412.91 L110.92 413.25 L111.25 413.60 L111.58 413.96 L111.91 414.32 L112.24 414.69 L112.57 415.06 L112.90 415.43 L113.23 415.81 L113.57 416.20 L113.90 416.63 L114.23 417.12 L114.56 417.65 L114.89 418.24 L115.22 418.87 L115.55 419.55 L115.88 420.27 L116.22 421.04 L116.55 421.86 L116.88 422.72 L117.21 423.62 L117.54 424.56 L117.87 425.54 L118.20 426.56 L118.53 427.62 L118.86 428.71 L119.20 429.84 L119.53 431.01"/>
<path d="M98.00 412.00 L98.33 412.01 L98.66 412.02 L98.99 412.05 L99.32 412.09 L99.66 412.13 L99.99 412.19 L100.32 412.26 L100.65 412.34 L100.98 412.42 L101.31 412.52 L101.64 412.63 L101.97 412.74 L102.31 412.87 L102.64 413.00 L102.97 413.15 L103.30 413.30 L103.63 413.46 L103.96 413.63 L104.29 413.81 L104.62 414.00 L104.95 414.19 L105.29 414.40 L105.62 414.61 L105.95 414.83 L106.28 415.05 L106.61 415.29 L106.94 415.53 L107.27 415.78 L107.60 416.04 L107.94 416.31 L108.27 416.58 L108.60 416.86 L108.93 417.14 L109.26 417.43 L109.59 417.73 L109.92 418.04 L110.25 418.35 L110.58 418.67 L110.92 418.99 L111.25 419.32 L111.58 419.66 L111.91 420.00 L112.24 420.34 L112.57 420.70 L112.90 421.05 L113.23 421.42 L113.57 421.79 L113.90 422.24 L114.23 422.77 L114.56 423.38 L114.89 424.06 L115.22 424.81 L115.55 425.64 L115.88 426.54 L116.22 427.51 L116.55 428.55 L116.88 429.65 L117.21 430.82"/>
<path d="M98.00 383.00 L98.33 383.38 L98.66 383.77 L98.99 384.17 L99.32 384.59 L99.66 385.01 L99.99 385.45 L100.32 385.90 L100.65 386.36 L100.98 386.83 L101.31 387.32 L101.64 387.81 L101.97 388.31 L102.31 388.83 L102.64 389.35 L102.97 389.89 L103.30 390.43 L103.63 390.99 L103.96 391.55 L104.29 392.13 L104.62 392.71 L104.95 393.30 L105.29 393.90 L105.62 394.51 L105.95 395.13 L106.28 395.76 L106.61 396.39 L106.94 397.03 L107.27 397.68 L107.60 398.34 L107.94 399.00 L108.27 399.68 L108.60 400.36 L108.93 401.04 L109.26 401.74 L109.59 402.44 L109.92 403.14 L110.25 403.85 L110.58 404.57 L110.92 405.30 L111.25 406.03 L111.58 406.76 L111.91 407.50 L112.24 408.25 L112.57 409.00 L112.90 409.76 L113.23 410.52 L113.57 411.28 L113.90 412.06 L114.23 412.86 L114.56 413.67 L114.89 414.49 L115.22 415.33 L115.55 416.19 L115.88 417.05 L116.22 417.94 L116.55 418.83 L116.88 419.74 L117.21 420.66 L117.54 421.60 L117.87 422.54 L118.20 423.51 L118.53 424.48 L118.86 425.46 L119.20 426.46 L119.53 427.47 L119.86 428.50 L120.19 429.53 L120.52 430.58"/>
<path d="M132.15 427.90 L132.39 427.05 L132.62 426.28 L132.85 425.58 L133.09 424.94 L133.32 424.38 L133.55 423.87 L133.79 423.43 L134.02 423.05 L134.25 422.73 L134.49 422.46 L134.72 422.25 L134.95 422.10 L135.19 422.00 L135.42 421.96 L135.66 421.97 L135.89 422.03 L136.12 422.15 L136.36 422.33 L136.59 422.56 L136.82 422.85 L137.06 423.19 L137.29 423.60 L137.52 424.06 L137.76 424.59 L137.99 425.19 L138.22 425.85 L138.46 426.57 L138.69 427.38 L138.92 428.26"/>
</g>
<line x1="98" y1="241" x2="699" y2="241" stroke="#111" stroke-width="1.6"/>
<g stroke="#111" stroke-width="1.6" fill="none">
<line x1="98" y1="6.2" x2="98" y2="427.8"/>
<line x1="91.5" y1="427.2" x2="698.8" y2="427.2"/>
<line x1="91.5" y1="7.0" x2="98" y2="7.0"/>
<line x1="91.5" y1="112.0" x2="98" y2="112.0"/>
<line x1="91.5" y1="217.0" x2="98" y2="217.0"/>
<line x1="91.5" y1="322.0" x2="98" y2="322.0"/>
<line x1="91.5" y1="427.0" x2="98" y2="427.0"/>
<line x1="159.54" y1="427" x2="159.54" y2="433.2" stroke-linecap="round"/>
<line x1="236.46" y1="427" x2="236.46" y2="433.2" stroke-linecap="round"/>
<line x1="313.38" y1="427" x2="313.38" y2="433.2" stroke-linecap="round"/>
<line x1="390.31" y1="427" x2="390.31" y2="433.2" stroke-linecap="round"/>
<line x1="467.23" y1="427" x2="467.23" y2="433.2" stroke-linecap="round"/>
<line x1="544.15" y1="427" x2="544.15" y2="433.2" stroke-linecap="round"/>
<line x1="621.08" y1="427" x2="621.08" y2="433.2" stroke-linecap="round"/>
<line x1="698.00" y1="427" x2="698.00" y2="433.2" stroke-linecap="round"/>
</g>
<text x="37.3" y="14.0" font-size="19.6">1e+1</text>
<text x="37.3" y="119.0" font-size="19.6">1e+0</text>
<text x="37.3" y="224.0" font-size="19.6">1e-1</text>
<text x="37.3" y="329.0" font-size="19.6">1e-2</text>
<text x="37.3" y="434.0" font-size="19.6">1e-3</text>
<text x="159.54" y="461.5" font-size="18.5" text-anchor="middle">5</text>
<text x="236.46" y="461.5" font-size="18.5" text-anchor="middle">10</text>
<text x="313.38" y="461.5" font-size="18.5" text-anchor="middle">15</text>
<text x="390.31" y="461.5" font-size="18.5" text-anchor="middle">20</text>
<text x="467.23" y="461.5" font-size="18.5" text-anchor="middle">25</text>
<text x="544.15" y="461.5" font-size="18.5" text-anchor="middle">30</text>
<text x="621.08" y="461.5" font-size="18.5" text-anchor="middle">35</text>
<text x="698.00" y="461.5" font-size="18.5" text-anchor="middle">40</text>
<text x="398.5" y="502.6" font-size="23" text-anchor="middle">Cycle</text>
<text transform="translate(17,215.8) rotate(-90)" x="0" y="0" font-size="23.3" text-anchor="middle">Delta Rn</text>
<g class="bx">
<rect x="107.05" y="332.70" width="29.10" height="26.80" fill="#fff" stroke="#4a4a4a" stroke-width="1.5"/>
<text x="122.10" y="351.35" text-anchor="middle">1</text>
<rect x="143.55" y="344.70" width="28.20" height="26.40" fill="#fff" stroke="#4a4a4a" stroke-width="1.5"/>
<text x="158.15" y="363.15" text-anchor="middle">2</text>
<rect x="168.45" y="377.60" width="28.60" height="26.60" fill="#fff" stroke="#4a4a4a" stroke-width="1.5"/>
<text x="183.25" y="396.15" text-anchor="middle">3</text>
<rect x="202.65" y="386.90" width="28.40" height="26.50" fill="#fff" stroke="#4a4a4a" stroke-width="1.5"/>
<text x="217.35" y="405.40" text-anchor="middle">4</text>
<rect x="235.65" y="360.00" width="28.50" height="27.30" fill="#fff" stroke="#4a4a4a" stroke-width="1.5"/>
<text x="250.40" y="378.90" text-anchor="middle">5</text>
<rect x="276.45" y="378.00" width="28.70" height="26.70" fill="#fff" stroke="#4a4a4a" stroke-width="1.5"/>
<text x="291.30" y="396.60" text-anchor="middle">6</text>
<rect x="489.95" y="392.10" width="55.00" height="26.90" fill="#fff" stroke="#4a4a4a" stroke-width="1.5"/>
<text x="516.25" y="410.80" text-anchor="middle">NTC</text>
</g>
</svg></body></html>
